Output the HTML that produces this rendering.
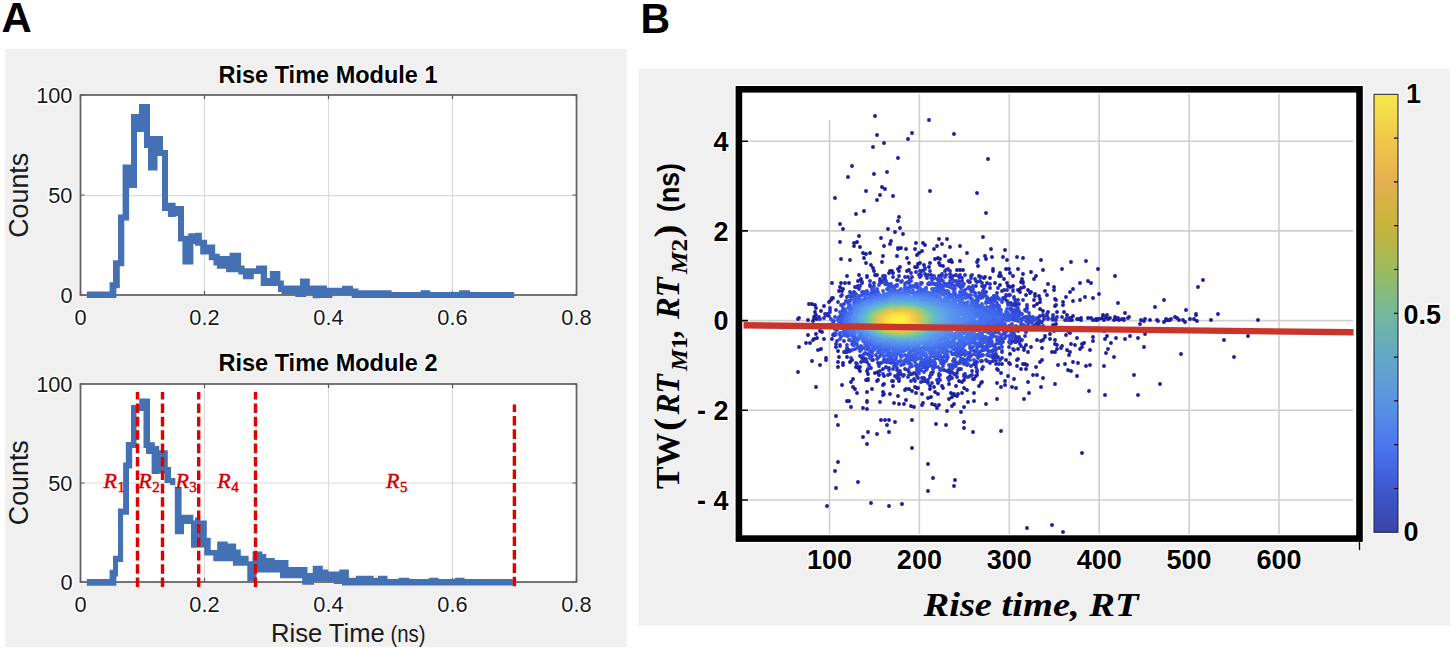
<!DOCTYPE html>
<html><head><meta charset="utf-8"><style>
html,body{margin:0;padding:0;background:#fff;width:1452px;height:650px;overflow:hidden}
svg{display:block}
</style></head><body>
<svg width="1452" height="650" viewBox="0 0 1452 650">
<rect x="0" y="0" width="1452" height="650" fill="#fff"/>
<rect x="5" y="49" width="622" height="598" fill="#f0f0f0"/>
<rect x="638.5" y="69" width="811" height="556.5" fill="#f0f0f0"/>
<text x="1.6" y="32.4" font-family='"Liberation Sans", sans-serif' font-weight="bold" font-size="43" transform="scale(0.975 1)">A</text>
<text x="640.6" y="32.6" font-family='"Liberation Sans", sans-serif' font-weight="bold" font-size="42.3" transform="translate(640 0) scale(0.97 1) translate(-640 0)">B</text>
<rect x="80.5" y="95" width="496.0" height="200" fill="#fff"/>
<path d="M204.5 95V295M328.5 95V295M452.5 95V295M80.5 195.7H576.5" stroke="#dadada" stroke-width="1.2" fill="none"/>
<rect x="80.5" y="384" width="496.0" height="198" fill="#fff"/>
<path d="M204.5 384V582M328.5 384V582M452.5 384V582M80.5 483.0H576.5" stroke="#dadada" stroke-width="1.2" fill="none"/>
<path d="M80.5 295v-4M80.5 95v4M204.5 295v-4M204.5 95v4M328.5 295v-4M328.5 95v4M452.5 295v-4M452.5 95v4M576.5 295v-4M576.5 95v4M80.5 95h4M576.5 95h-4M80.5 195.0h4M576.5 195.0h-4M80.5 295h4M576.5 295h-4" stroke="#555" stroke-width="1.2" fill="none"/>
<rect x="80.5" y="95" width="496.0" height="200" fill="none" stroke="#5e5e5e" stroke-width="1.7"/>
<path d="M80.5 582v-4M80.5 384v4M204.5 582v-4M204.5 384v4M328.5 582v-4M328.5 384v4M452.5 582v-4M452.5 384v4M576.5 582v-4M576.5 384v4M80.5 384h4M576.5 384h-4M80.5 483.0h4M576.5 483.0h-4M80.5 582h4M576.5 582h-4" stroke="#555" stroke-width="1.2" fill="none"/>
<rect x="80.5" y="384" width="496.0" height="198" fill="none" stroke="#5e5e5e" stroke-width="1.7"/>
<path d="M86.8 291.6H109.6V282.2H113V260.2H118V214.5H122.6V164.4H131V114H139V104H150V136H163V150H168V202.7H175.6V206H184V235.7H188.3V233.2H195V232.8H201.9V239.8H207.1V244.6H215.2V253.8H219.8V256.1H229.6V252.7H241.1V265.4H244.6V268.3H256.1V265.6H267.1V278H269.8V270.9H280.4V280.4H283.8V285.6H300V278.6H309.8V285.6H326.9V287.7H342V285.7H353V288.4H358.6V290.2H391.6V291.9H420.6V290.2H430.2V291.9H459.1V290.2H470.1V291.9H514.2V298H351.7V295.3H332.4V298H320V298.2H312.6V294.8H306.3V297.1H295.3V294.2H281.5V291.9H278V286.1H260.7V274H253.8V279.2H242.9V274.6H238.3V272.3H226.1V268.8H216.9V265.4H213.5V260.2H208.8V254.4H200.2V245.8H195V244H193.4V264.5H182.4V241.6H178V216.2H175.6V217H168V211H162V156H157.5V170.6H148V148H144V132H137V188H129.1V220.5H124.3V266.2H119.8V288.2H116.4V298H86.8Z" fill="#4470b4"/>
<path d="M86.8 579H109.6V569.7H113V555.8H118V508.5H123.1V462.6H125.8V442H131V405H139.2V398.6H150V442.2H154.8V446H159.2V450.3H167.8V467H171V478H175.3V487.4H181.6V514.7H193.4V520.6H195V517.4H200.2V520.4H206.8V537.7H210.7V550.1H217.2V541.4H227.7V543.6H236.2V549.5H240.8V555.7H248.6V561.2H252.5V551.4H262.4V554H266.3V558H274.8V559.9H288.5V567.1H307.5V573H312.7V565.8H322.8V569.5H328.3V571.5H339.3V569.5H348.9V577.7H355.8V575.7H373.7V577.7H377.9V575.7H387.5V579.1H398.5V577.7H409.5V579.1H428.8V577.7H438.5V579.1H455V577.7H464.6V579.1H512.8V585.5H342V583.9H333.8V581.2H322.5V580.9H314V584.8H302.2V578.2H280V572.4H256.5V581.5H247.3V565.8H232.9V561.2H213.3V555.4H204.2V547.5H196.8V547.7H191V524H184V534.2H174.8V485H170V483H164.5V473.4H159.2V474H151.6V454H146V448H143.5V411H136.5V448H132.2V468.5H129V514.7H123.1V562H118V576.5H116.4V585.8H86.8Z" fill="#4470b4"/>
<path d="M137.5 392V587" stroke="#e00000" stroke-width="3.4" stroke-dasharray="9.6 3.8" stroke-dashoffset="2"/>
<path d="M162.5 392V587" stroke="#e00000" stroke-width="3.4" stroke-dasharray="9.6 3.8" stroke-dashoffset="2"/>
<path d="M198.7 392V587" stroke="#e00000" stroke-width="3.4" stroke-dasharray="9.6 3.8" stroke-dashoffset="2"/>
<path d="M255.5 392V587" stroke="#e00000" stroke-width="3.4" stroke-dasharray="9.6 3.8" stroke-dashoffset="2"/>
<path d="M514.4 404.5V587" stroke="#e00000" stroke-width="3.4" stroke-dasharray="9.6 3.8" stroke-dashoffset="2"/>
<text x="103.5" y="487.8" font-family="Liberation Serif, serif" font-style="italic" font-size="22" fill="#d40000" stroke="#d40000" stroke-width="0.45">R<tspan font-size="15" font-style="normal" dx="0.5" dy="4.6">1</tspan></text>
<text x="138.2" y="487.8" font-family="Liberation Serif, serif" font-style="italic" font-size="22" fill="#d40000" stroke="#d40000" stroke-width="0.45">R<tspan font-size="15" font-style="normal" dx="0.5" dy="4.6">2</tspan></text>
<text x="175.4" y="487.8" font-family="Liberation Serif, serif" font-style="italic" font-size="22" fill="#d40000" stroke="#d40000" stroke-width="0.45">R<tspan font-size="15" font-style="normal" dx="0.5" dy="4.6">3</tspan></text>
<text x="217.2" y="487.8" font-family="Liberation Serif, serif" font-style="italic" font-size="22" fill="#d40000" stroke="#d40000" stroke-width="0.45">R<tspan font-size="15" font-style="normal" dx="0.5" dy="4.6">4</tspan></text>
<text x="386" y="487.8" font-family="Liberation Serif, serif" font-style="italic" font-size="22" fill="#d40000" stroke="#d40000" stroke-width="0.45">R<tspan font-size="15" font-style="normal" dx="0.5" dy="4.6">5</tspan></text>
<text x="72.5" y="103.3" text-anchor="end" font-family='"Liberation Sans", sans-serif' font-size="21.8" fill="#1a1a1a" stroke="#fff" stroke-width="3" paint-order="stroke">100</text>
<text x="72.5" y="203.3" text-anchor="end" font-family='"Liberation Sans", sans-serif' font-size="21.8" fill="#1a1a1a" stroke="#fff" stroke-width="3" paint-order="stroke">50</text>
<text x="72.5" y="303.3" text-anchor="end" font-family='"Liberation Sans", sans-serif' font-size="21.8" fill="#1a1a1a" stroke="#fff" stroke-width="3" paint-order="stroke">0</text>
<text x="80.5" y="324.5" text-anchor="middle" font-family='"Liberation Sans", sans-serif' font-size="21.8" fill="#1a1a1a" stroke="#fff" stroke-width="3" paint-order="stroke">0</text>
<text x="204.5" y="324.5" text-anchor="middle" font-family='"Liberation Sans", sans-serif' font-size="21.8" fill="#1a1a1a" stroke="#fff" stroke-width="3" paint-order="stroke">0.2</text>
<text x="328.5" y="324.5" text-anchor="middle" font-family='"Liberation Sans", sans-serif' font-size="21.8" fill="#1a1a1a" stroke="#fff" stroke-width="3" paint-order="stroke">0.4</text>
<text x="452.5" y="324.5" text-anchor="middle" font-family='"Liberation Sans", sans-serif' font-size="21.8" fill="#1a1a1a" stroke="#fff" stroke-width="3" paint-order="stroke">0.6</text>
<text x="576.5" y="324.5" text-anchor="middle" font-family='"Liberation Sans", sans-serif' font-size="21.8" fill="#1a1a1a" stroke="#fff" stroke-width="3" paint-order="stroke">0.8</text>
<text x="328" y="83" text-anchor="middle" font-family='"Liberation Sans", sans-serif' font-weight="bold" font-size="23.5" fill="#000" stroke="#fff" stroke-width="2.5" stroke-opacity="0.8" paint-order="stroke">Rise Time Module 1</text>
<text transform="translate(28 195.3) rotate(-90)" text-anchor="middle" font-family='"Liberation Sans", sans-serif' font-size="26.8" fill="#1a1a1a">Counts</text>
<text x="72.5" y="392.3" text-anchor="end" font-family='"Liberation Sans", sans-serif' font-size="21.8" fill="#1a1a1a" stroke="#fff" stroke-width="3" paint-order="stroke">100</text>
<text x="72.5" y="491.3" text-anchor="end" font-family='"Liberation Sans", sans-serif' font-size="21.8" fill="#1a1a1a" stroke="#fff" stroke-width="3" paint-order="stroke">50</text>
<text x="72.5" y="590.3" text-anchor="end" font-family='"Liberation Sans", sans-serif' font-size="21.8" fill="#1a1a1a" stroke="#fff" stroke-width="3" paint-order="stroke">0</text>
<text x="80.5" y="611.5" text-anchor="middle" font-family='"Liberation Sans", sans-serif' font-size="21.8" fill="#1a1a1a" stroke="#fff" stroke-width="3" paint-order="stroke">0</text>
<text x="204.5" y="611.5" text-anchor="middle" font-family='"Liberation Sans", sans-serif' font-size="21.8" fill="#1a1a1a" stroke="#fff" stroke-width="3" paint-order="stroke">0.2</text>
<text x="328.5" y="611.5" text-anchor="middle" font-family='"Liberation Sans", sans-serif' font-size="21.8" fill="#1a1a1a" stroke="#fff" stroke-width="3" paint-order="stroke">0.4</text>
<text x="452.5" y="611.5" text-anchor="middle" font-family='"Liberation Sans", sans-serif' font-size="21.8" fill="#1a1a1a" stroke="#fff" stroke-width="3" paint-order="stroke">0.6</text>
<text x="576.5" y="611.5" text-anchor="middle" font-family='"Liberation Sans", sans-serif' font-size="21.8" fill="#1a1a1a" stroke="#fff" stroke-width="3" paint-order="stroke">0.8</text>
<text x="328" y="371.3" text-anchor="middle" font-family='"Liberation Sans", sans-serif' font-weight="bold" font-size="23.5" fill="#000" stroke="#fff" stroke-width="2.5" stroke-opacity="0.8" paint-order="stroke">Rise Time Module 2</text>
<text transform="translate(28 482.7) rotate(-90)" text-anchor="middle" font-family='"Liberation Sans", sans-serif' font-size="26.8" fill="#1a1a1a">Counts</text>
<text x="271" y="641.7" font-family='"Liberation Sans", sans-serif' font-size="25.6" fill="#1a1a1a">Rise Time</text>
<text x="390.5" y="641.7" font-family='"Liberation Sans", sans-serif' font-size="24.5" fill="#1a1a1a" textLength="35" lengthAdjust="spacingAndGlyphs">(ns)</text>
<rect x="739" y="89.2" width="620.3" height="449.3" fill="#fff"/>
<path d="M749 141.2H1353M749 230.9H1353M749 320.6H1353M749 410.3H1353M749 500.0H1353M829.5 120V535M919.4 94V535M1009.3 94V535M1099.2 94V535M1189.1 94V535M1279.0 94V535" stroke="#d0d0d0" stroke-width="1.6" fill="none"/>
<g stroke-linecap="round" stroke-width="3.9" fill="none">
<path stroke="#1c1e9e" d="M1082 453h0M988 159h0M930 191h0M954 134h0M977 193h0M986 213h0M1234 357h0M912 448h0M835 198h0M875 116h0M827 506h0M1134 375h0M1138 395h0M929 120h0M1001 431h0M1160 384h0M1258 320h0M1027 528h0M816 387h0M1224 340h0M898 158h0M1248 336h0M858 482h0M928 464h0M836 488h0M798 372h0M928 491h0M983 237h0M852 166h0M871 503h0M848 177h0M1115 276h0M1105 395h0M1089 391h0M933 478h0M838 425h0M838 462h0M835 471h0M836 416h0M877 135h0M1063 532h0M1098 269h0M1052 525h0M887 172h0M902 504h0M874 174h0M912 420h0M1086 261h0M1144 347h0M1118 303h0M889 506h0M1062 269h0M954 486h0M955 480h0M873 147h0M1041 260h0M1218 314h0M1055 384h0M973 432h0M1071 262h0M864 211h0M997 399h0M856 214h0M867 444h0M866 191h0M912 133h0M936 424h0M884 143h0M908 139h0M1024 399h0M1104 366h0M1203 280h0M840 224h0M986 404h0M841 259h0M843 229h0M946 425h0M840 242h0M1155 307h0M899 217h0M1181 354h0M1181 354h0M893 196h0M964 422h0M964 428h0M1114 357h0M1041 387h0M1099 294h0M859 236h0M889 432h0M877 200h0M1198 287h0M1164 300h0M1164 300h0M1211 320h0M863 437h0M1029 393h0M799 347h0M1198 287h0M1077 376h0M812 361h0M898 221h0M868 432h0M1023 258h0M1043 270h0M1005 250h0M960 246h0M888 229h0M991 249h0M820 365h0M1145 334h0M881 238h0M877 434h0M882 187h0M1091 283h0M1157 330h0M885 189h0M850 260h0M842 385h0M1080 283h0M1093 298h0M967 253h0M961 412h0M1088 281h0M1017 257h0M903 234h0M1138 338h0M1090 365h0M900 228h0M1043 378h0M880 195h0M1106 353h0M847 401h0M1058 365h0M851 407h0M1028 382h0M1130 336h0M947 239h0M1108 349h0M1125 339h0M895 422h0M883 256h0M1048 284h0M867 409h0M849 401h0M1086 366h0M1073 289h0M863 408h0M974 401h0M895 232h0M881 420h0M1085 297h0M880 402h0M1090 350h0M1003 257h0M1042 360h0M832 283h0M950 247h0M884 246h0M1111 343h0M1054 287h0M1016 388h0M939 239h0M1116 338h0M1007 260h0M1068 370h0M798 319h0M1080 300h0M887 425h0M1070 292h0M847 276h0M947 411h0M1071 371h0M885 420h0M818 350h0M1037 375h0M1001 387h0M857 393h0M1078 363h0M964 407h0M916 243h0M854 243h0M889 420h0M1040 362h0M992 257h0M897 256h0M1065 364h0M857 242h0M882 262h0M867 401h0M867 402h0M1033 375h0M1186 310h0M1186 310h0M1036 276h0M799 318h0M1012 387h0M854 246h0M826 360h0M891 241h0M1073 362h0M985 256h0M1107 336h0M923 243h0M899 404h0M826 358h0M1105 339h0M870 253h0M894 403h0M867 392h0M855 389h0M1093 337h0M1014 379h0M851 382h0M809 304h0M866 263h0M821 349h0M860 247h0M968 402h0M1104 331h0M1093 341h0M1031 272h0M974 393h0M890 244h0M1073 301h0M997 383h0M978 260h0M911 406h0M986 259h0M977 262h0M942 244h0M853 379h0M1088 330h0M853 387h0M838 367h0M914 407h0M1054 290h0M806 343h0M864 258h0M1034 279h0M937 408h0M1036 367h0M863 253h0M866 254h0M1197 321h0M937 246h0M1077 338h0M1008 376h0M934 249h0M1196 315h0M1196 314h0M812 304h0M904 404h0M1018 269h0M808 335h0M872 389h0M1005 385h0M871 265h0M1069 355h0M925 245h0M1140 324h0M907 258h0M1052 352h0M1070 333h0M1042 348h0M1005 381h0M978 266h0M883 395h0M898 396h0M1066 297h0M898 248h0M906 400h0M898 249h0M952 406h0M960 261h0M906 249h0M884 394h0M901 248h0M915 249h0M922 251h0M1001 373h0M1084 343h0M919 253h0M1092 329h0M1045 291h0M939 405h0M810 343h0M922 405h0M1194 319h0M917 255h0M890 394h0M1080 349h0M1066 335h0M1145 319h0M935 405h0M1055 352h0M1141 320h0M1144 321h0M883 392h0M979 386h0M1023 274h0M1150 320h0M1026 369h0M954 404h0M1021 369h0M923 403h0M1082 347h0M1068 331h0M982 382h0M1185 322h0M1082 344h0M1063 302h0M1190 319h0M1125 313h0M1009 269h0M932 404h0M1055 299h0M993 269h0M1157 320h0M981 383h0M1070 352h0M1006 269h0M1158 321h0M813 340h0M1063 305h0M1027 365h0M873 268h0M1075 345h0M1056 300h0M838 362h0M814 339h0M843 365h0M1025 364h0M1028 352h0M967 390h0M841 283h0M945 256h0M1071 344h0M1047 295h0M1183 320h0M1067 350h0M866 380h0M1023 364h0M1164 322h0M815 305h0M1041 341h0M1010 273h0M1057 349h0M1055 340h0M1022 279h0M1017 366h0M928 398h0M949 399h0M1055 344h0M905 390h0M928 398h0M951 260h0M1013 276h0M1179 320h0M935 259h0M962 393h0M1057 345h0M1043 340h0M1061 348h0M817 338h0M1129 317h0M993 271h0M916 393h0M868 380h0M1175 317h0M931 397h0M938 394h0M909 263h0M1062 346h0M1037 340h0M900 267h0M816 334h0M859 275h0M922 394h0M1050 339h0M964 388h0M1056 305h0M883 385h0M893 386h0M938 258h0M1177 318h0M1166 319h0M1018 359h0M1017 360h0M808 320h0M912 391h0M1167 320h0M940 259h0M1045 336h0M906 389h0M868 379h0M998 370h0M1168 320h0M1045 337h0M957 396h0M909 389h0M1170 320h0M1171 319h0M1055 306h0M1031 347h0M952 397h0M1128 318h0M958 394h0M935 392h0M997 369h0M1050 334h0M1023 282h0M884 384h0M845 283h0M843 363h0M951 393h0M1000 274h0M1000 273h0M954 394h0M954 395h0M840 287h0M1039 296h0M951 261h0M898 269h0M943 388h0M816 308h0M1054 331h0M877 381h0M832 298h0M952 262h0M874 271h0M1040 299h0M839 357h0M1035 294h0M1010 364h0M824 339h0M949 261h0M1031 292h0M1040 302h0M820 331h0M1001 276h0M956 386h0M1021 282h0M1023 283h0M1035 296h0M999 276h0M963 270h0M860 371h0M878 380h0M1004 279h0M831 300h0M942 386h0M1107 315h0M930 389h0M939 263h0M1037 304h0M918 264h0M1034 300h0M813 321h0M849 283h0M1124 320h0M949 384h0M829 302h0M867 276h0M918 388h0M1124 319h0M1064 312h0M930 263h0M1028 290h0M920 263h0M1030 293h0M1009 363h0M1024 350h0M934 387h0M824 306h0M917 388h0M1122 319h0M1122 319h0M1088 318h0M899 271h0M868 374h0M1051 329h0M1103 315h0M1081 318h0M1024 348h0M858 281h0M814 319h0M833 298h0M1119 320h0M1024 287h0M915 387h0M1081 320h0M815 312h0M1091 318h0M990 278h0M861 279h0M890 271h0M974 379h0M1118 318h0M892 381h0M892 271h0M1026 295h0M1093 320h0M1007 283h0M867 276h0M1081 320h0M962 382h0M822 332h0M1114 320h0M893 381h0M1118 319h0M924 265h0M940 265h0M839 291h0M943 266h0M1117 319h0M1096 320h0M1115 317h0M867 371h0M859 369h0M815 316h0M814 317h0M960 270h0M1078 319h0M1097 320h0M867 277h0M1104 320h0M1048 328h0M843 289h0M1097 319h0M1096 319h0M1097 320h0M1073 316h0M836 347h0M1021 288h0M1106 317h0M899 381h0M817 319h0M1102 318h0M1078 319h0M1110 318h0M856 367h0M1099 319h0M1000 285h0M1010 354h0M1108 319h0M957 270h0M1067 315h0M1077 319h0M985 277h0M875 275h0M973 379h0M1053 326h0M850 362h0M816 315h0M995 283h0M977 375h0M1057 312h0M930 386h0M838 351h0M976 376h0M1006 360h0M857 367h0M1034 306h0M877 275h0M821 311h0M884 376h0M929 267h0M917 267h0M915 267h0M860 367h0M1026 345h0M879 375h0M1055 326h0M979 276h0M875 373h0M1018 349h0M1072 320h0M842 291h0M964 380h0M1013 286h0M1002 364h0M1056 324h0M1020 292h0M907 271h0M938 383h0M1040 309h0M1048 312h0M1014 350h0M1019 290h0M909 270h0M1010 287h0M977 372h0M1008 286h0M1043 311h0M984 278h0M822 325h0M878 372h0M959 381h0M852 360h0M847 357h0M1053 325h0M1070 318h0M893 273h0M1071 320h0M982 369h0M889 273h0M862 282h0M832 339h0M1018 290h0"/>
<path stroke="#2630b9" d="M868 369h0M836 344h0M932 383h0M1023 300h0M899 379h0M1069 320h0M1069 319h0M972 375h0M983 367h0M1066 320h0M857 364h0M820 319h0M1067 318h0M1025 336h0M819 317h0M972 275h0M928 383h0M999 364h0M1065 320h0M888 375h0M871 368h0M970 376h0M925 268h0M968 377h0M981 277h0M883 374h0M1062 317h0M862 283h0M948 269h0M977 370h0M1013 290h0M949 380h0M987 283h0M990 284h0M946 270h0M899 378h0M1021 346h0M965 275h0M980 277h0M915 381h0M911 381h0M996 364h0M851 358h0M830 308h0M856 363h0M940 380h0M1043 326h0M998 288h0M925 269h0M1026 332h0M1013 291h0M950 271h0M880 371h0M897 378h0M858 286h0M1007 290h0M1013 349h0M883 276h0M948 378h0M937 380h0M856 287h0M971 276h0M890 374h0M1057 317h0M1004 290h0M1000 360h0M945 271h0M1018 300h0M921 382h0M924 381h0M1053 315h0M1056 320h0M939 379h0M911 273h0M1027 305h0M1056 319h0M840 345h0M1002 358h0M965 377h0M930 271h0M837 341h0M895 376h0M990 363h0M972 371h0M928 380h0M914 379h0M1020 344h0M1014 297h0M855 287h0M825 314h0M840 346h0M827 327h0M883 369h0M842 295h0M841 296h0M1002 291h0M957 377h0M830 310h0M920 271h0M844 352h0M926 381h0M870 281h0M1047 315h0M1047 314h0M1002 291h0M1022 340h0M980 281h0M952 378h0M1026 331h0M960 275h0M824 318h0M908 377h0M885 277h0M975 279h0M861 362h0M903 376h0M899 276h0M924 270h0M898 375h0M885 276h0M827 314h0M982 283h0M964 376h0M964 375h0M1053 317h0M965 374h0M869 365h0M847 352h0M1053 320h0M1014 298h0M916 272h0M1015 300h0M826 315h0M845 352h0M990 288h0M841 296h0M925 380h0M921 271h0M879 366h0M1052 319h0M922 271h0M1010 295h0M838 302h0M1027 307h0M889 370h0M990 362h0M1020 344h0M976 367h0M908 277h0M996 361h0M996 361h0M993 361h0M846 351h0M860 286h0M1002 352h0M956 275h0M971 278h0M898 374h0M893 277h0M930 377h0M985 286h0M976 281h0M939 376h0M830 312h0M950 274h0M1009 295h0M998 357h0M920 274h0M1048 318h0M1048 319h0M1006 295h0M901 374h0M956 375h0M1020 339h0M905 277h0M982 286h0M950 376h0M918 378h0M904 375h0M1048 318h0M829 327h0M919 275h0M828 314h0M884 278h0M930 376h0M984 288h0M1032 327h0M924 378h0M1039 325h0M1043 315h0M959 277h0M922 378h0M977 282h0M880 279h0M940 375h0M1019 304h0M997 293h0M987 361h0M829 327h0M942 274h0M962 278h0M886 367h0M1015 303h0M889 368h0M1009 347h0M870 285h0M1002 351h0M1044 317h0M996 358h0M950 274h0M956 374h0M867 362h0M1042 322h0M925 274h0M917 376h0M1034 326h0M1006 296h0M893 369h0M912 277h0M1019 341h0M897 370h0M864 360h0M865 360h0M864 361h0M928 275h0M932 374h0M1027 309h0M921 275h0M909 375h0M1044 319h0M939 374h0M971 366h0M931 275h0M880 281h0M1039 323h0M878 363h0M829 316h0M946 275h0M1040 316h0M885 279h0M920 277h0M1019 337h0M986 360h0M900 371h0M874 283h0M926 276h0M847 348h0M847 348h0M912 374h0M954 374h0M921 276h0M950 373h0M974 364h0M1017 304h0M829 325h0M870 286h0M1015 342h0M898 280h0M982 361h0M968 281h0M834 334h0M833 335h0M865 360h0M957 373h0M993 358h0M883 281h0M850 292h0M953 276h0M849 350h0M850 351h0M970 282h0M976 364h0M977 362h0M848 350h0M1016 342h0M1025 310h0M952 372h0M866 359h0M886 281h0M942 275h0M859 289h0M950 277h0M951 277h0M1007 301h0M961 369h0M897 368h0M994 357h0M969 282h0M854 292h0M860 356h0M1018 331h0M882 282h0M1005 299h0M863 357h0M862 358h0M1011 303h0M910 280h0M1036 324h0M974 364h0M914 373h0M1010 343h0M1011 343h0M931 373h0M1013 305h0M981 361h0M872 360h0M835 334h0M835 335h0M986 292h0M992 356h0M880 283h0M1016 339h0M897 280h0M947 371h0M1028 326h0M909 372h0M873 360h0M952 372h0M927 278h0M836 310h0M1020 328h0M934 276h0M1016 337h0M994 355h0M1015 337h0M1015 336h0M996 354h0M967 365h0M916 374h0M983 291h0M944 370h0M958 370h0M1038 321h0M939 276h0M1012 341h0M1012 341h0M1010 304h0M933 372h0M1039 320h0M1003 298h0M1013 341h0M847 297h0M1016 306h0M967 365h0M1017 329h0M905 369h0M949 370h0M952 279h0M976 286h0M881 363h0M908 370h0M1037 318h0M844 341h0M1008 303h0M914 373h0M994 296h0M999 348h0M997 297h0M1025 310h0M975 362h0M959 369h0M962 281h0M934 278h0"/>
<path stroke="#3047d8" d="M847 345h0M831 319h0M940 370h0M941 370h0M910 280h0M968 364h0M911 281h0M934 277h0M945 277h0M1023 325h0M1024 325h0M1002 347h0M852 294h0M984 292h0M852 350h0M997 297h0M1014 334h0M973 286h0M924 372h0M1014 333h0M1037 320h0M1026 311h0M941 278h0M840 339h0M919 373h0M885 282h0M956 281h0M990 356h0M1014 331h0M901 282h0M931 278h0M983 292h0M902 281h0M973 287h0M1029 313h0M1013 337h0M1016 328h0M886 283h0M883 362h0M941 369h0M1032 323h0M993 353h0M998 298h0M841 305h0M1009 342h0M1009 342h0M959 281h0M953 368h0M874 286h0M954 281h0M964 364h0M894 366h0M951 368h0M974 360h0M1008 305h0M1033 317h0M1021 325h0M933 369h0M896 366h0M998 298h0M994 296h0M1002 301h0M1014 328h0M1034 319h0M1028 324h0M987 355h0M1010 339h0M1032 321h0M959 283h0M953 367h0M1018 308h0M950 367h0M951 367h0M951 367h0M941 279h0M877 359h0M1011 332h0M870 358h0M1033 319h0M1034 320h0M849 296h0M833 322h0M879 285h0M1011 335h0M996 350h0M954 366h0M1016 326h0M950 281h0M995 297h0M996 349h0M957 283h0M978 358h0M981 356h0M1033 321h0M1033 321h0M999 299h0M1002 302h0M966 363h0M873 288h0M1009 336h0M956 366h0M886 362h0M1030 322h0M836 334h0M973 289h0M964 284h0M895 364h0M971 288h0M959 284h0M901 365h0M863 355h0M1001 344h0M855 349h0M888 284h0M963 284h0M1029 316h0M917 371h0M917 371h0M937 279h0M1030 321h0M1029 321h0M969 287h0M960 363h0M995 348h0M939 279h0M940 280h0M932 280h0M979 293h0M956 364h0M970 360h0M906 283h0M906 283h0M935 367h0M958 284h0M943 366h0M1003 342h0M981 356h0M921 370h0M908 282h0M963 362h0M989 352h0M835 329h0M909 283h0M958 363h0M985 295h0M953 365h0M977 356h0M897 364h0M841 337h0M951 365h0M980 355h0M885 284h0M992 298h0M872 288h0M886 362h0M949 365h0M938 367h0M1021 323h0M910 367h0M994 350h0M956 363h0M983 355h0M834 321h0M1030 317h0M994 349h0M922 283h0M963 286h0M943 281h0M981 355h0M878 358h0M1006 336h0M969 288h0M917 369h0M978 356h0M926 370h0M835 317h0M1019 311h0M970 289h0M980 294h0M836 330h0M960 361h0M961 362h0M987 297h0M938 280h0M967 360h0M960 285h0M862 292h0M968 358h0M1012 328h0M1028 319h0M963 361h0M950 282h0M966 360h0M920 370h0M970 288h0M969 288h0M959 286h0M952 284h0M991 351h0M888 284h0M988 351h0M851 297h0M1005 338h0M867 354h0M888 362h0M964 360h0M1028 318h0M955 361h0M1003 339h0M891 363h0M1001 342h0M929 283h0M968 288h0M1027 318h0M905 284h0M995 300h0M1022 314h0M1007 331h0M1011 308h0M1010 309h0M886 361h0M927 369h0M934 367h0M844 304h0M1026 321h0M968 358h0M981 296h0M891 284h0M970 356h0M852 344h0M995 347h0M975 293h0M939 282h0M1026 317h0M921 283h0M921 284h0M963 359h0M840 335h0M998 343h0M953 361h0M944 363h0M997 343h0M973 291h0M983 296h0M989 299h0M971 291h0M869 355h0M869 355h0M918 368h0M941 363h0M1015 310h0M961 359h0M971 356h0M872 356h0M860 351h0M836 330h0M932 283h0M934 366h0M1005 333h0M1005 333h0M991 299h0M1017 311h0M888 285h0M1025 317h0M955 360h0M999 341h0M897 285h0M946 361h0M954 359h0M846 301h0M856 294h0M912 366h0M853 296h0M1004 332h0M1004 331h0M978 353h0M1020 313h0M955 286h0M853 345h0M891 361h0M1001 336h0M917 368h0M974 354h0M865 353h0M1021 314h0M935 364h0M999 341h0M1002 335h0M943 361h0M983 297h0M1023 318h0M929 366h0M930 284h0M997 303h0M995 345h0M969 355h0M961 288h0M1022 320h0M1000 338h0M981 351h0M984 350h0M904 364h0M924 367h0M884 359h0M849 340h0M1016 312h0M923 367h0M965 355h0M946 361h0M1012 311h0M1013 310h0M876 355h0M960 356h0M984 350h0M932 366h0M997 340h0M917 284h0M917 285h0M916 284h0M1021 319h0M894 362h0M947 284h0M970 353h0M975 295h0M861 350h0M927 367h0M852 344h0M991 301h0M993 345h0M1015 312h0M934 284h0M1019 314h0M968 353h0M999 306h0M880 356h0M945 284h0M916 366h0M987 349h0M993 301h0M887 360h0M936 284h0M939 283h0M947 359h0M843 308h0M965 290h0M1012 324h0M975 295h0M979 297h0M950 286h0M987 299h0M928 284h0M908 363h0M975 351h0M904 362h0M858 347h0M948 286h0M864 292h0M1014 312h0M963 354h0M991 345h0M895 286h0M988 347h0M849 301h0M1009 326h0M992 345h0M877 289h0M867 291h0M918 366h0M974 351h0M992 301h0M888 360h0M898 362h0M837 330h0"/>
<path stroke="#3551e1" d="M993 302h0M911 364h0M931 284h0M897 285h0M947 286h0M1019 316h0M977 350h0M920 366h0M854 345h0M985 348h0M943 285h0M872 290h0M1007 309h0M893 360h0M1018 321h0M955 289h0M990 346h0M872 353h0M872 353h0M967 353h0M1005 327h0M981 298h0M940 284h0M935 363h0M957 356h0M950 287h0M858 348h0M859 348h0M1017 315h0M1017 314h0M891 286h0M936 284h0M890 360h0M1016 320h0M843 310h0M999 333h0M953 288h0M953 289h0M916 285h0M914 286h0M840 312h0M910 286h0M983 349h0M991 303h0M997 337h0M861 349h0M940 360h0M976 296h0M874 291h0M977 298h0M978 298h0M919 365h0M838 328h0M999 307h0M893 287h0M977 349h0M1001 329h0M850 301h0M985 347h0M853 342h0M1018 319h0M892 360h0M963 291h0M963 292h0M916 365h0M870 352h0M840 333h0M867 293h0M928 365h0M1017 318h0M905 361h0M838 319h0M884 356h0M931 363h0M909 363h0M983 348h0M900 361h0M917 365h0M944 286h0M962 353h0M943 358h0M988 345h0M901 361h0M937 286h0M989 302h0M958 354h0M877 290h0M987 302h0M1016 320h0M971 295h0M961 352h0M896 359h0M948 357h0M934 361h0M848 303h0M897 286h0M992 342h0M960 292h0M987 345h0M889 287h0M919 365h0M844 335h0M998 331h0M997 331h0M854 342h0M873 292h0M850 340h0M922 365h0M922 365h0M971 350h0M892 358h0M891 359h0M1016 319h0M905 360h0M844 309h0M862 348h0M996 306h0M864 293h0M1014 320h0M1014 319h0M989 343h0M917 286h0M954 291h0M917 286h0M962 292h0M905 287h0M965 351h0M1001 329h0M1001 329h0M1015 316h0M851 300h0M862 295h0M994 336h0M994 336h0M855 298h0M855 297h0M940 286h0M912 286h0M965 293h0M964 293h0M1012 314h0M911 287h0M997 332h0M969 296h0M946 356h0M1006 312h0M862 347h0M862 348h0M1015 318h0M906 361h0M991 340h0M929 363h0M977 347h0M993 335h0M982 347h0M838 327h0M966 294h0M866 349h0M925 364h0M856 343h0M993 305h0M1014 316h0M954 354h0M968 295h0M896 359h0M888 289h0M993 334h0M921 364h0M995 332h0M838 320h0M915 362h0M908 360h0M986 302h0M941 288h0M888 356h0M980 346h0M998 309h0M841 314h0M844 311h0M839 321h0M866 293h0M866 293h0M953 354h0M970 348h0M970 348h0M1008 313h0M863 348h0M960 351h0M839 317h0M889 289h0M839 323h0M988 342h0M995 306h0M906 360h0M962 294h0M969 297h0M856 298h0M854 340h0M927 363h0M841 315h0M973 347h0M857 344h0M990 339h0M869 350h0M992 337h0M907 360h0M943 288h0M861 346h0M910 360h0M947 355h0M966 296h0M944 357h0M938 288h0M845 310h0M991 336h0M992 333h0M964 294h0M942 289h0M970 298h0M922 363h0M921 362h0M926 288h0M932 361h0M955 293h0M918 287h0M873 293h0M952 354h0M847 336h0M866 349h0M878 292h0M982 345h0M966 295h0M896 357h0M943 357h0M916 287h0M1002 325h0M937 358h0M942 289h0M859 296h0M996 330h0M1012 319h0M891 357h0M986 303h0M930 361h0M954 293h0M908 288h0M910 359h0M970 298h0M1011 316h0M887 289h0M978 346h0M881 354h0M845 334h0M1001 310h0M878 352h0M994 308h0M839 326h0M848 336h0M841 328h0M991 335h0M978 301h0M901 357h0M988 339h0M989 338h0M1004 325h0M978 345h0M861 346h0M925 361h0M924 361h0M962 349h0M1008 315h0M959 351h0M976 301h0M956 352h0M960 294h0M840 318h0M875 293h0M1010 319h0M840 323h0M873 351h0M912 359h0M946 354h0M869 350h0M870 350h0M940 356h0M935 359h0M842 316h0M943 289h0M972 299h0M909 358h0M938 288h0M862 295h0M946 291h0M1009 320h0M1010 319h0M1005 324h0M912 359h0M871 293h0M951 352h0M987 339h0M981 343h0M930 359h0M894 289h0M888 289h0M927 360h0M927 360h0M926 360h0"/>
<path stroke="#395ce9" d="M1006 314h0M1001 325h0M913 360h0M844 313h0M934 289h0M986 340h0M985 342h0M1010 319h0M948 291h0M990 307h0M991 306h0M846 334h0M846 335h0M890 355h0M926 288h0M926 289h0M992 330h0M994 308h0M983 342h0M974 301h0M920 288h0M854 339h0M977 344h0M977 344h0M939 357h0M992 329h0M1004 324h0M869 349h0M865 347h0M887 355h0M982 304h0M867 294h0M915 360h0M996 328h0M902 356h0M902 356h0M956 350h0M878 352h0M843 332h0M989 333h0M979 343h0M949 293h0M1008 318h0M1009 318h0M947 354h0M947 353h0M972 301h0M942 290h0M909 358h0M966 298h0M917 359h0M894 355h0M963 348h0M840 324h0M908 289h0M975 344h0M840 321h0M985 338h0M842 318h0M960 295h0M848 308h0M866 347h0M1006 315h0M985 340h0M945 354h0M930 359h0M929 358h0M848 335h0M923 360h0M907 357h0M990 307h0M976 303h0M956 349h0M935 289h0M970 345h0M970 346h0M948 293h0M998 312h0M884 352h0M900 355h0M913 358h0M1001 313h0M1000 312h0M934 290h0M855 299h0M938 355h0M902 356h0M987 307h0M985 339h0M985 338h0M933 290h0M932 289h0M933 289h0M883 291h0M1006 320h0M1007 320h0M1007 319h0M1007 317h0M986 337h0M959 348h0M909 356h0M989 331h0M964 346h0M869 348h0M892 354h0M867 346h0M987 332h0M990 307h0M855 338h0M888 354h0M893 289h0M875 349h0M911 356h0M966 298h0M870 294h0M985 337h0M993 309h0M925 290h0M946 353h0M919 358h0M939 290h0M850 305h0M849 306h0M997 312h0M842 328h0M920 358h0M854 300h0M895 290h0M920 290h0M841 325h0M916 357h0M962 298h0M938 291h0M984 337h0M1005 319h0M1005 319h0M936 356h0M986 331h0M842 320h0M948 351h0M912 357h0M940 355h0M942 292h0M993 326h0M908 355h0M896 355h0M896 354h0M991 308h0M962 346h0M959 347h0M889 291h0M890 353h0M889 354h0M956 349h0M994 310h0M994 311h0M879 351h0M914 356h0M1001 322h0M842 322h0M935 356h0M928 358h0M856 300h0M999 312h0M986 330h0M980 341h0M858 299h0M941 292h0M952 295h0M926 357h0M1004 315h0M959 296h0M992 327h0M887 352h0M948 294h0M985 331h0M844 316h0M909 290h0M989 328h0M926 358h0M905 355h0M994 326h0M978 305h0M964 346h0M866 346h0M915 357h0M976 303h0M900 290h0M955 295h0M905 289h0M953 349h0M901 289h0M846 331h0M905 289h0M1005 319h0M990 328h0M973 302h0M843 319h0M940 354h0M992 327h0M999 324h0M946 351h0M957 296h0M934 355h0M982 338h0M939 292h0M981 306h0M981 306h0M846 312h0M874 349h0M855 337h0M955 348h0M843 329h0M963 298h0M1002 322h0M1003 320h0M1003 320h0M894 354h0M893 353h0M933 356h0M975 342h0M882 350h0M859 299h0M865 297h0M972 303h0M869 347h0M857 339h0M926 356h0M1004 319h0M855 302h0M893 291h0M875 295h0M925 290h0M921 357h0M926 356h0M852 336h0M923 290h0M915 355h0M916 355h0M922 356h0M966 344h0M980 339h0M899 353h0M981 339h0M981 339h0M921 290h0M922 291h0M994 325h0M989 327h0M973 303h0M865 344h0M854 303h0M931 356h0M882 351h0M945 293h0M1001 321h0M858 340h0M942 352h0M990 310h0M846 312h0M853 336h0M956 297h0M999 315h0M894 291h0M935 292h0M997 323h0M997 323h0M1001 321h0M956 348h0M986 328h0M985 328h0M848 332h0M998 322h0M973 342h0M978 306h0M876 294h0M846 331h0M846 331h0M1002 318h0M982 333h0M981 336h0M868 346h0M873 347h0M873 348h0M883 351h0M983 307h0M961 298h0M933 292h0M933 291h0M981 334h0M850 307h0M909 353h0M971 343h0M972 342h0M937 353h0M1001 319h0M913 290h0M913 290h0M880 350h0M977 306h0M982 334h0M982 333h0"/>
<path stroke="#3f66ec" d="M911 354h0M981 336h0M995 313h0M877 295h0M877 295h0M893 353h0M924 355h0M1001 318h0M938 293h0M924 355h0M890 292h0M844 328h0M863 341h0M935 354h0M963 345h0M962 345h0M884 350h0M884 350h0M982 308h0M983 307h0M982 307h0M1000 317h0M1001 316h0M1000 317h0M931 354h0M954 347h0M894 352h0M996 322h0M997 322h0M938 352h0M938 353h0M898 291h0M989 311h0M1000 320h0M1001 319h0M991 311h0M919 354h0M914 354h0M968 302h0M902 352h0M962 299h0M869 297h0M927 292h0M933 354h0M990 325h0M986 309h0M873 346h0M953 348h0M953 347h0M875 347h0M986 326h0M948 296h0M968 343h0M848 332h0M922 355h0M941 352h0M858 301h0M958 298h0M882 350h0M997 315h0M996 314h0M845 327h0M845 328h0M926 354h0M922 354h0M960 345h0M844 320h0M860 300h0M924 354h0M999 320h0M984 327h0M976 306h0M936 353h0M990 324h0M972 341h0M971 341h0M971 341h0M892 291h0M863 341h0M917 353h0M980 334h0M979 335h0M968 302h0M972 304h0M973 305h0M972 305h0M1000 319h0M985 309h0M985 310h0M994 322h0M998 315h0M987 326h0M918 353h0M987 310h0M976 339h0M919 292h0M946 349h0M973 341h0M851 333h0M990 311h0M919 292h0M999 319h0M999 319h0M998 321h0M930 354h0M978 338h0M918 291h0M918 292h0M934 352h0M888 351h0M887 351h0M920 354h0M938 294h0M857 301h0M991 323h0M845 315h0M979 308h0M951 297h0M950 297h0M951 297h0M943 294h0M851 308h0M851 308h0M958 344h0M871 296h0M986 310h0M969 342h0M972 340h0M974 339h0M994 315h0M995 314h0M885 349h0M923 354h0M852 335h0M894 351h0M861 300h0M860 299h0M981 328h0M979 334h0M952 346h0M985 326h0M846 330h0M940 351h0M897 351h0M865 341h0M942 294h0M904 351h0M950 347h0M983 309h0M982 327h0M898 352h0M849 331h0M943 350h0M932 352h0M932 353h0M847 331h0M895 292h0M895 292h0M889 350h0M996 319h0M878 348h0M975 307h0M959 299h0M958 299h0M964 343h0M952 346h0M952 347h0M910 292h0M845 319h0M910 351h0M979 331h0M850 310h0M920 352h0M919 353h0M911 351h0M956 344h0M987 323h0M983 310h0M981 327h0M977 337h0M847 314h0M971 340h0M869 343h0M908 291h0M908 291h0M978 330h0M978 330h0M975 338h0M996 320h0M985 325h0M923 353h0M886 350h0M908 291h0M908 291h0M941 350h0M979 309h0M959 343h0M996 318h0M977 335h0M845 323h0M947 347h0M924 292h0M952 297h0M944 295h0M955 345h0M860 338h0M873 345h0M906 292h0M992 314h0M992 315h0M859 300h0M977 335h0M899 292h0M898 292h0M923 293h0M989 313h0M971 305h0M974 338h0M986 312h0M904 292h0M966 304h0M976 308h0M917 351h0M904 291h0M982 326h0M992 320h0M994 317h0M959 301h0M964 341h0M961 343h0M954 345h0M950 297h0M962 301h0M894 350h0M978 328h0M979 327h0M978 327h0M919 292h0M888 349h0M994 317h0M984 311h0M987 323h0M866 299h0M865 298h0M865 299h0M964 342h0M994 319h0M878 347h0M942 349h0M948 346h0M973 338h0M852 333h0M960 342h0M945 348h0M906 350h0M864 340h0M904 351h0M931 294h0M863 300h0M896 351h0M971 306h0M989 321h0M901 350h0M975 335h0M923 352h0M954 345h0M966 303h0M989 314h0M910 351h0M984 323h0M933 350h0M978 309h0M931 294h0M992 318h0M992 319h0M993 318h0M993 317h0M942 349h0M941 349h0M991 320h0M846 327h0M959 343h0M969 339h0M866 341h0M956 344h0M945 348h0M854 335h0M932 351h0M915 293h0M858 301h0M914 351h0M971 338h0M930 293h0M880 295h0M860 301h0M846 325h0M846 324h0M991 317h0M991 318h0M977 329h0M932 350h0M991 320h0M990 319h0M984 323h0M984 322h0M868 343h0M976 330h0M986 321h0M870 344h0M871 344h0M988 320h0M989 321h0M989 316h0M991 316h0M930 350h0M968 340h0M876 296h0M944 347h0M944 347h0M913 293h0M985 313h0M955 344h0M964 304h0M965 303h0M977 308h0M917 350h0M929 351h0M930 350h0M928 294h0M886 348h0M975 329h0"/>
<path stroke="#4571ef" d="M845 323h0M990 318h0M958 300h0M845 320h0M859 336h0M918 350h0M919 350h0M939 348h0M940 349h0M892 349h0M983 323h0M851 331h0M988 316h0M988 315h0M935 294h0M989 316h0M974 332h0M974 333h0M928 350h0M920 350h0M954 300h0M884 294h0M884 295h0M935 350h0M871 298h0M947 298h0M922 351h0M854 334h0M924 350h0M861 338h0M849 329h0M986 321h0M987 314h0M974 331h0M973 336h0M970 338h0M970 339h0M987 315h0M981 311h0M967 340h0M979 311h0M959 341h0M977 310h0M937 348h0M981 323h0M855 334h0M971 306h0M895 350h0M984 321h0M873 297h0M965 339h0M907 292h0M940 347h0M936 348h0M938 295h0M974 332h0M982 323h0M885 294h0M971 337h0M971 336h0M908 349h0M955 343h0M878 345h0M878 296h0M932 295h0M899 349h0M898 350h0M960 341h0M899 349h0M899 350h0M973 335h0M913 349h0M986 318h0M986 316h0M949 299h0M846 319h0M967 339h0M963 303h0M917 349h0M984 321h0M981 312h0M935 348h0M943 346h0M926 349h0M953 343h0M854 305h0M945 345h0M953 299h0M925 350h0M972 332h0M904 293h0M939 347h0M921 350h0M940 297h0M983 314h0M901 293h0M933 348h0M973 328h0M984 314h0M862 300h0M887 294h0M871 342h0M846 320h0M878 345h0M879 297h0M968 337h0M949 299h0M851 331h0M974 309h0M977 311h0M952 343h0M849 330h0M929 295h0M849 313h0M981 312h0M847 316h0M979 322h0M979 323h0M971 335h0M955 301h0M847 321h0M968 306h0M968 306h0M950 344h0M950 344h0M940 347h0M936 348h0M954 341h0M982 313h0M968 337h0M980 321h0M931 348h0M930 349h0M976 325h0M971 332h0M947 298h0M983 317h0M926 295h0M879 346h0M873 344h0M883 296h0M940 347h0M969 336h0M871 298h0M963 339h0M934 295h0M974 309h0M960 339h0M858 303h0M928 349h0M934 347h0M935 348h0M935 348h0M876 298h0M875 298h0M927 348h0M982 317h0M970 332h0M848 318h0M982 318h0M862 337h0M974 325h0M980 320h0M925 295h0M946 299h0M926 348h0M965 338h0M933 295h0M925 349h0M970 335h0M948 343h0M888 347h0M889 347h0M937 297h0M963 304h0M881 346h0M922 348h0M922 348h0M894 293h0M921 348h0M981 318h0M897 348h0M896 349h0M865 339h0M914 348h0M916 348h0M917 348h0M917 348h0M918 349h0M908 348h0M949 343h0M949 343h0M923 295h0M907 349h0M965 305h0M897 349h0M859 303h0M980 315h0M848 316h0M981 319h0M981 320h0M940 346h0M961 338h0M902 348h0M877 344h0M980 320h0M947 343h0M921 294h0M922 295h0M936 297h0M943 345h0M968 334h0M968 335h0M974 325h0M860 335h0M859 336h0M968 336h0M968 336h0M967 335h0M867 340h0M970 331h0M960 303h0M981 316h0M959 338h0M966 337h0M882 345h0M969 333h0M969 333h0M968 333h0M872 343h0M961 305h0M891 347h0M981 317h0M948 299h0M949 300h0M945 298h0M979 320h0M848 326h0M848 327h0M954 301h0M967 336h0M967 336h0M929 295h0M889 294h0M928 347h0M959 339h0M959 339h0M968 332h0M978 314h0M978 313h0M881 296h0M919 295h0M919 294h0M952 341h0M953 340h0M962 337h0M947 343h0M927 347h0M864 337h0M970 328h0M939 297h0M939 298h0M944 343h0M942 344h0M897 293h0M980 316h0M968 333h0M934 346h0M973 324h0M851 313h0M883 346h0M906 294h0M906 294h0M976 312h0M934 297h0M925 348h0M979 317h0M975 324h0M968 333h0M978 314h0M893 347h0M946 342h0M947 342h0M977 314h0"/>
<path stroke="#4979f0" d="M968 331h0M966 333h0M916 295h0M874 342h0M873 343h0M971 327h0M971 326h0M883 296h0M894 347h0M853 330h0M886 296h0M883 345h0M959 338h0M959 337h0M955 302h0M946 343h0M945 343h0M851 328h0M915 295h0M872 341h0M926 296h0M947 341h0M948 342h0M914 295h0M854 307h0M856 305h0M969 308h0M925 295h0M976 322h0M955 338h0M971 309h0M949 341h0M949 341h0M856 306h0M970 327h0M968 328h0M896 348h0M897 347h0M966 332h0M865 338h0M962 306h0M931 297h0M871 299h0M910 347h0M967 329h0M880 298h0M964 333h0M961 336h0M946 341h0M955 302h0M955 302h0M906 347h0M906 348h0M875 343h0M977 316h0M860 304h0M904 347h0M973 324h0M972 323h0M892 295h0M966 308h0M867 338h0M875 299h0M940 298h0M931 297h0M956 338h0M961 336h0M967 309h0M944 300h0M922 295h0M886 345h0M885 346h0M970 309h0M970 309h0M958 337h0M936 345h0M965 331h0M870 341h0M962 334h0M929 296h0M960 336h0M854 330h0M868 300h0M849 322h0M881 297h0M963 333h0M964 332h0M962 306h0M962 333h0M888 296h0M976 317h0M971 323h0M956 336h0M936 344h0M876 298h0M858 305h0M859 305h0M929 297h0M975 314h0M952 338h0M886 345h0M853 310h0M852 313h0M852 329h0M972 322h0M967 328h0M963 331h0M908 295h0M973 312h0M973 321h0M955 303h0M955 304h0M938 344h0M962 334h0M961 334h0M969 326h0M941 343h0M851 314h0M965 329h0M859 333h0M956 337h0M948 339h0M946 301h0M946 301h0M975 318h0M953 302h0M952 302h0M952 302h0M869 300h0M971 311h0M972 311h0M960 333h0M895 295h0M855 331h0M885 297h0M885 296h0M962 332h0M962 332h0M974 319h0M949 301h0M927 297h0M955 336h0M918 346h0M857 307h0M857 307h0M956 336h0M974 320h0M972 321h0M883 344h0M973 313h0M850 324h0M974 314h0M863 336h0M962 331h0M963 331h0M876 343h0M877 342h0M969 325h0M946 301h0M888 346h0M957 305h0M956 305h0M956 305h0M916 347h0M940 343h0M940 342h0M958 305h0M956 336h0M965 327h0M915 347h0M945 340h0M945 340h0M974 318h0M931 298h0M931 297h0M966 327h0M924 296h0M948 301h0M937 298h0M870 301h0M883 297h0M973 319h0M915 295h0M852 314h0M899 295h0M850 324h0M898 346h0M898 347h0M881 343h0M967 309h0M945 300h0M957 334h0M910 347h0M854 330h0M954 303h0M973 314h0M954 336h0M859 333h0M860 333h0M866 338h0M900 347h0M935 298h0M908 346h0M908 347h0M901 347h0M900 346h0M924 345h0M907 347h0M969 324h0M969 323h0M878 343h0M974 316h0M973 316h0M965 326h0M947 302h0M891 296h0M867 302h0M890 345h0M974 317h0M850 325h0M861 335h0M849 320h0M849 321h0M974 317h0M961 330h0M849 321h0M969 322h0M970 322h0M924 346h0M962 307h0M954 335h0M871 339h0M964 308h0M970 321h0M972 321h0M930 345h0M934 299h0M971 312h0M970 313h0M851 317h0M858 305h0M892 345h0"/>
<path stroke="#4e80f0" d="M875 299h0M929 298h0M967 323h0M947 301h0M921 297h0M945 339h0M957 333h0M950 303h0M940 342h0M887 344h0M937 343h0M942 300h0M857 306h0M957 306h0M950 337h0M856 331h0M933 298h0M972 316h0M852 326h0M851 326h0M851 326h0M857 307h0M856 307h0M919 296h0M919 297h0M868 301h0M960 308h0M965 325h0M969 322h0M962 308h0M962 309h0M933 344h0M965 310h0M910 296h0M880 299h0M927 345h0M952 304h0M888 297h0M962 327h0M861 333h0M850 317h0M966 324h0M967 323h0M966 324h0M945 302h0M945 301h0M971 314h0M944 340h0M956 333h0M957 332h0M953 334h0M919 297h0M959 330h0M960 329h0M932 299h0M964 326h0M963 326h0M963 325h0M963 326h0M946 338h0M949 303h0M948 303h0M852 328h0M853 312h0M947 338h0M950 336h0M953 304h0M927 344h0M895 345h0M894 345h0M857 331h0M969 321h0M850 323h0M963 310h0M969 320h0M925 298h0M908 296h0M945 301h0M852 316h0M852 315h0M960 327h0M896 345h0M852 314h0M925 344h0M941 301h0M970 313h0M969 313h0M882 298h0M959 330h0M959 329h0M890 296h0M916 345h0M864 335h0M864 336h0M864 336h0M896 296h0M971 319h0M866 302h0M924 297h0M925 297h0M897 346h0M914 345h0M963 325h0M964 324h0M970 316h0M970 315h0M915 297h0M965 311h0M856 331h0M970 317h0M970 316h0M969 320h0M969 320h0M851 320h0M962 309h0M964 324h0M961 309h0M959 308h0M959 307h0M930 344h0M968 312h0M968 313h0M968 312h0M967 313h0M911 345h0M949 336h0M958 329h0M861 333h0M957 330h0M957 331h0M965 323h0M966 323h0M947 336h0M904 296h0M901 346h0M891 344h0M935 300h0M966 311h0M901 345h0M939 341h0M952 333h0M953 334h0M873 340h0M902 295h0M856 309h0M929 344h0M901 295h0M901 296h0M900 296h0M857 307h0M904 345h0M906 346h0M951 305h0M968 319h0M942 301h0M964 311h0M936 341h0M970 317h0M864 334h0M858 331h0M953 306h0M960 309h0M966 312h0M874 301h0M968 315h0M949 336h0M943 338h0M942 338h0M946 302h0M967 314h0M946 337h0M944 337h0M957 330h0M928 343h0M871 302h0M871 302h0M965 311h0M865 336h0M938 341h0M852 317h0M921 297h0M920 344h0M969 316h0M968 315h0M942 301h0M927 298h0M928 298h0M892 345h0M876 340h0M875 341h0M879 299h0M962 311h0M951 305h0M888 298h0M852 323h0M968 316h0M940 339h0M966 313h0M926 344h0M967 315h0M958 308h0M953 305h0M956 308h0M942 339h0M941 339h0M967 318h0M930 342h0M957 329h0M851 319h0M852 318h0M941 302h0M862 304h0M852 316h0M966 321h0M965 321h0M872 302h0M950 333h0M950 333h0M951 334h0M951 333h0M968 317h0M967 318h0M931 299h0M894 345h0M909 297h0M965 313h0M860 306h0M960 310h0M894 296h0M888 297h0M885 299h0M943 303h0M966 313h0M854 327h0M860 332h0"/>
<path stroke="#5288f0" d="M880 342h0M884 343h0M930 343h0M889 343h0M967 318h0M967 319h0M947 336h0M947 335h0M918 298h0M935 301h0M936 301h0M955 307h0M962 311h0M939 302h0M960 325h0M966 319h0M935 340h0M936 341h0M966 316h0M967 315h0M858 308h0M966 318h0M955 329h0M933 341h0M894 297h0M897 345h0M852 324h0M853 324h0M873 302h0M907 296h0M866 303h0M962 322h0M965 315h0M928 342h0M937 340h0M947 334h0M965 319h0M962 321h0M963 321h0M885 342h0M946 304h0M914 345h0M862 305h0M895 297h0M858 331h0M964 320h0M946 336h0M950 306h0M950 306h0M899 344h0M942 338h0M966 316h0M953 306h0M864 304h0M864 305h0M863 304h0M965 317h0M966 317h0M958 325h0M932 341h0M955 328h0M956 327h0M891 343h0M962 313h0M960 310h0M960 311h0M871 338h0M923 298h0M927 343h0M877 341h0M910 345h0M911 345h0M873 302h0M933 301h0M933 300h0M904 297h0M905 296h0M965 319h0M964 318h0M870 302h0M914 297h0M961 322h0M902 344h0M897 296h0M937 302h0M947 335h0M960 312h0M860 331h0M964 318h0M898 297h0M899 297h0M899 296h0M899 296h0M866 334h0M903 297h0M882 300h0M965 316h0M940 337h0M941 337h0M901 297h0M934 340h0M933 340h0M951 306h0M927 299h0M964 315h0M956 326h0M933 300h0M921 343h0M963 313h0M940 303h0M941 303h0M951 331h0M856 310h0M893 344h0M963 320h0M943 304h0M952 329h0M891 297h0M892 297h0M957 310h0M957 310h0M853 321h0M963 317h0M936 340h0M859 307h0M945 335h0M927 300h0M926 299h0M863 305h0M925 343h0M954 309h0M860 330h0M854 325h0M962 314h0M938 339h0M858 309h0M948 333h0M962 318h0M963 319h0M961 314h0M962 313h0M951 307h0M874 338h0M879 300h0M957 325h0M957 324h0M867 304h0M872 338h0M959 321h0M963 315h0M926 300h0M943 303h0M947 334h0M895 343h0M910 298h0M955 310h0M956 310h0M954 328h0M954 328h0M952 329h0M872 302h0M858 329h0M962 318h0M960 314h0M888 343h0M895 344h0M880 341h0M854 326h0M854 326h0M883 341h0M916 344h0M961 319h0M853 323h0M948 332h0M894 297h0M950 306h0M885 300h0M959 322h0M918 298h0M923 342h0M957 324h0M866 304h0M865 304h0M915 343h0M955 325h0M869 304h0M960 314h0M864 333h0M863 332h0M863 332h0M928 342h0M928 342h0M953 326h0"/>
<path stroke="#568eef" d="M894 298h0M894 297h0M958 312h0M933 339h0M915 343h0M917 299h0M950 330h0M952 328h0M875 338h0M947 305h0M908 297h0M884 341h0M929 301h0M914 343h0M959 320h0M936 338h0M936 338h0M881 340h0M880 341h0M951 308h0M854 318h0M853 319h0M923 300h0M900 344h0M866 333h0M955 323h0M854 322h0M853 321h0M855 324h0M855 324h0M957 311h0M959 318h0M959 318h0M877 340h0M921 342h0M859 309h0M859 309h0M955 325h0M878 301h0M958 312h0M896 298h0M937 302h0M937 302h0M947 332h0M911 344h0M885 341h0M958 320h0M867 304h0M860 329h0M904 297h0M910 344h0M922 300h0M921 300h0M921 299h0M939 304h0M904 298h0M920 343h0M907 344h0M904 343h0M948 306h0M907 343h0M905 343h0M949 330h0M949 308h0M949 308h0M899 297h0M926 341h0M926 341h0M936 337h0M932 301h0M865 306h0M901 298h0M901 298h0M900 297h0M886 300h0M926 301h0M927 300h0M859 328h0M935 303h0M958 314h0M856 313h0M879 301h0M953 310h0M869 335h0M869 335h0M953 325h0M954 325h0M857 326h0M944 305h0M879 340h0M891 298h0M892 299h0M913 298h0M956 321h0M956 320h0M872 337h0M856 314h0M893 343h0M893 343h0M957 314h0M954 310h0M953 311h0M947 330h0M935 302h0M934 339h0M934 339h0M950 328h0M948 329h0M867 334h0M854 317h0M956 312h0M855 322h0M894 343h0M958 316h0M892 298h0M880 301h0M861 329h0M863 331h0M938 303h0M856 324h0M856 325h0M859 311h0M859 311h0M928 341h0M931 340h0M910 298h0M875 302h0M866 306h0M865 306h0M941 304h0M860 309h0M957 315h0M956 314h0M880 339h0M888 342h0M957 319h0M957 318h0M957 318h0M941 335h0M940 335h0M952 325h0M951 326h0M951 326h0M857 313h0M947 330h0M854 319h0M955 313h0M956 318h0M944 333h0M956 317h0M947 329h0M948 330h0M948 330h0M884 301h0M950 327h0M954 322h0M935 337h0M949 329h0M865 333h0M865 333h0M950 310h0M942 305h0M874 337h0M875 338h0M927 341h0M933 302h0M952 324h0M952 324h0M873 336h0M940 305h0M940 304h0"/>
<path stroke="#5893ed" d="M942 334h0M955 315h0M949 309h0M945 306h0M899 342h0M881 340h0M881 340h0M880 340h0M880 339h0M881 339h0M890 299h0M896 298h0M896 298h0M856 317h0M953 311h0M952 312h0M953 311h0M866 305h0M945 330h0M907 298h0M938 336h0M886 300h0M885 301h0M885 300h0M942 332h0M950 326h0M950 310h0M897 298h0M862 330h0M934 338h0M912 342h0M911 342h0M948 328h0M948 329h0M920 341h0M955 314h0M886 340h0M891 342h0M892 341h0M891 341h0M904 299h0M941 334h0M940 333h0M941 333h0M941 333h0M955 318h0M955 318h0M874 304h0M947 308h0M914 300h0M953 320h0M856 325h0M909 343h0M890 300h0M891 299h0M904 299h0M904 342h0M898 299h0M899 299h0M859 310h0M875 337h0M907 342h0M908 343h0M954 318h0M955 318h0M955 318h0M950 324h0M899 299h0M930 303h0M861 328h0M952 321h0M855 322h0M893 342h0M941 305h0M887 300h0M944 330h0M930 338h0M913 299h0M866 332h0M866 333h0M855 318h0M855 319h0M855 319h0M954 319h0M954 320h0M886 340h0M868 306h0M868 305h0M867 306h0M860 327h0M953 315h0M954 315h0M946 329h0M948 326h0M935 337h0M934 336h0M933 338h0M932 337h0M932 337h0M927 340h0M927 339h0M927 340h0M863 308h0M858 327h0M859 326h0M857 316h0M947 327h0M946 329h0M947 328h0M946 328h0M919 341h0M875 303h0M913 300h0M949 311h0M945 307h0M953 316h0M865 307h0M951 323h0M954 317h0M887 340h0M951 313h0M951 313h0M951 313h0M887 300h0M895 341h0M911 300h0M863 330h0M918 300h0M859 313h0M859 312h0M858 312h0M947 309h0M940 333h0M936 336h0M863 308h0M863 309h0M926 339h0M949 325h0M929 303h0M856 317h0M933 304h0M944 329h0M945 329h0M880 338h0M916 342h0M916 341h0M868 305h0M948 327h0M946 327h0M943 307h0M943 307h0M893 299h0M894 299h0M893 299h0M949 310h0M938 334h0M857 323h0M859 311h0M859 311h0M861 328h0M874 336h0M952 318h0M861 310h0M862 309h0M942 331h0M941 332h0M942 331h0M953 316h0M873 335h0M935 305h0M936 305h0M909 299h0M951 312h0M860 310h0M860 311h0"/>
<path stroke="#5a97eb" d="M937 335h0M928 338h0M922 341h0M889 340h0M947 310h0M859 326h0M909 299h0M939 332h0M940 332h0M917 300h0M860 326h0M859 326h0M872 305h0M876 304h0M885 340h0M943 329h0M907 299h0M857 318h0M881 339h0M899 342h0M932 336h0M933 337h0M950 323h0M950 322h0M948 311h0M948 310h0M890 301h0M934 305h0M935 304h0M947 327h0M856 320h0M870 305h0M859 314h0M857 319h0M945 327h0M926 302h0M952 318h0M951 321h0M937 333h0M952 316h0M951 316h0M907 300h0M949 311h0M899 342h0M950 313h0M858 316h0M857 323h0M857 324h0M863 309h0M905 300h0M905 299h0M912 342h0M945 310h0M898 299h0M951 314h0M950 315h0M951 319h0M940 307h0M886 339h0M950 322h0M949 322h0M872 334h0M942 331h0M942 330h0M948 325h0M874 305h0M874 305h0M899 300h0M938 333h0M914 301h0M904 300h0M904 299h0M943 309h0M944 309h0M941 307h0M863 328h0M933 335h0M881 339h0M865 308h0M901 299h0M901 300h0M950 319h0M951 319h0M929 337h0M930 338h0M904 341h0M942 330h0M943 329h0M947 326h0M950 316h0M908 341h0M859 325h0M948 323h0M906 341h0M906 341h0M858 317h0M858 316h0M950 317h0M950 317h0M950 316h0M947 312h0M947 311h0M949 312h0M950 321h0M949 321h0M950 320h0M887 301h0M865 331h0M861 327h0M918 340h0M939 307h0M878 304h0M879 303h0M875 305h0M949 319h0M935 334h0M934 335h0M949 322h0M948 322h0M940 307h0M947 325h0M937 332h0M937 333h0M950 316h0M923 340h0M948 313h0M928 338h0M892 300h0M941 329h0M865 308h0M865 309h0M945 325h0M950 317h0M912 300h0M872 305h0M947 312h0M923 303h0M943 329h0M945 327h0M945 327h0M859 323h0M858 324h0M860 314h0M949 320h0M948 321h0M858 319h0M866 307h0M866 308h0M931 305h0M939 332h0"/>
<path stroke="#5b9cea" d="M935 333h0M917 341h0M874 335h0M859 315h0M858 316h0M928 303h0M943 309h0M879 303h0M911 300h0M875 304h0M934 306h0M896 341h0M948 319h0M889 339h0M921 339h0M922 339h0M940 331h0M915 340h0M889 302h0M922 303h0M909 300h0M909 301h0M945 310h0M945 310h0M949 319h0M895 300h0M941 330h0M862 310h0M862 311h0M931 305h0M931 305h0M930 305h0M931 305h0M949 318h0M948 318h0M949 318h0M862 312h0M945 312h0M932 336h0M946 312h0M947 313h0M947 313h0M885 303h0M914 340h0M924 339h0M925 338h0M925 339h0M909 301h0M860 326h0M941 328h0M862 326h0M859 317h0M947 321h0M898 340h0M943 326h0M943 327h0M921 339h0M877 336h0M943 309h0M877 305h0M907 301h0M865 308h0M939 307h0M872 333h0M898 341h0M868 307h0M941 309h0M866 330h0M907 301h0M915 301h0M859 321h0M938 330h0M929 305h0M930 304h0M913 340h0M891 340h0M948 315h0M947 315h0M876 335h0M946 314h0M897 301h0M947 318h0M944 324h0M911 341h0M948 316h0M948 316h0M947 316h0M935 307h0M944 311h0M944 312h0M860 324h0M940 329h0M940 330h0M945 313h0M873 305h0M899 300h0M932 305h0M859 321h0M891 301h0M931 335h0M944 325h0M871 307h0M861 314h0M860 314h0M928 337h0M910 340h0M911 340h0M864 309h0M902 340h0M902 340h0M891 339h0M941 327h0M903 341h0M937 308h0M946 314h0M928 304h0M939 308h0M918 339h0M933 333h0M879 337h0M907 341h0M904 340h0M905 340h0M906 341h0M906 341h0M863 328h0M863 327h0M864 328h0M864 327h0M946 320h0M946 320h0M944 323h0M944 324h0M914 301h0M920 303h0M919 302h0M922 338h0M937 331h0M867 309h0M925 337h0M932 305h0M863 326h0M862 326h0M946 318h0M886 339h0"/>
<path stroke="#5da1e8" d="M875 305h0M947 317h0M947 317h0M918 340h0M918 339h0M934 333h0M934 332h0M928 305h0M928 305h0M941 309h0M941 309h0M860 317h0M928 337h0M929 335h0M893 339h0M893 339h0M894 339h0M892 302h0M940 329h0M940 329h0M937 307h0M883 338h0M945 320h0M918 302h0M941 327h0M942 327h0M946 314h0M946 314h0M888 303h0M888 302h0M922 338h0M869 331h0M933 333h0M934 306h0M945 319h0M945 320h0M946 319h0M946 320h0M941 311h0M866 310h0M866 310h0M944 324h0M943 324h0M894 301h0M945 316h0M944 313h0M937 330h0M876 305h0M927 304h0M917 303h0M917 302h0M942 312h0M943 311h0M880 305h0M859 320h0M930 334h0M940 310h0M933 333h0M888 302h0M888 302h0M859 320h0M872 307h0M927 337h0M909 301h0M865 310h0M862 324h0M939 328h0M938 328h0M945 321h0M929 305h0M944 314h0M944 315h0M944 314h0M861 315h0M943 322h0M943 323h0M915 339h0M914 340h0M941 327h0M917 303h0M917 302h0M916 302h0M877 335h0M921 304h0M895 301h0M864 312h0M923 338h0M884 304h0M861 322h0M861 323h0M873 334h0M881 337h0M944 314h0M898 339h0M898 339h0M880 304h0M942 323h0M942 324h0M896 301h0M897 301h0M875 335h0M943 321h0M943 322h0M936 331h0M884 337h0M884 338h0M907 302h0M897 301h0M938 310h0M898 340h0M912 339h0M929 305h0M861 317h0M873 306h0M926 337h0M926 337h0M926 336h0M936 309h0M937 330h0M898 302h0M899 302h0M861 315h0M862 315h0M890 339h0M900 340h0"/>
<path stroke="#5fa6e5" d="M944 314h0M911 339h0M912 339h0M869 308h0M868 308h0M868 309h0M943 321h0M937 329h0M903 301h0M904 301h0M860 321h0M861 322h0M861 322h0M942 323h0M900 302h0M901 302h0M940 327h0M940 326h0M919 339h0M919 339h0M902 302h0M867 329h0M867 328h0M862 324h0M862 323h0M862 323h0M861 323h0M914 303h0M911 340h0M940 310h0M882 305h0M861 318h0M886 338h0M885 338h0M886 337h0M933 332h0M902 339h0M902 340h0M943 316h0M865 310h0M866 311h0M863 314h0M863 314h0M860 321h0M940 312h0M873 332h0M872 332h0M903 340h0M909 339h0M865 327h0M865 327h0M943 318h0M943 317h0M860 318h0M870 331h0M863 324h0M938 309h0M937 309h0M903 340h0M904 340h0M908 339h0M930 306h0M931 307h0M913 302h0M924 304h0M923 305h0M860 320h0M934 331h0M907 339h0M935 309h0M871 308h0M874 306h0M924 336h0M865 312h0M863 326h0M922 338h0M862 316h0M861 315h0M861 315h0M862 316h0M929 334h0M929 334h0M942 315h0M882 304h0M940 325h0M892 302h0M893 303h0M942 323h0M870 308h0M869 330h0M932 308h0M933 307h0M932 307h0M932 307h0M941 314h0M942 316h0M893 338h0M930 307h0M929 306h0M929 307h0M888 303h0M939 312h0M940 311h0M872 332h0M933 332h0M911 303h0M880 335h0M940 312h0M921 337h0M920 338h0M921 338h0M920 337h0M920 337h0M920 338h0M934 308h0M861 316h0M924 336h0M873 308h0M933 331h0M861 322h0M910 303h0M911 303h0M925 305h0M894 302h0M928 335h0M935 329h0M922 304h0M874 332h0M942 321h0M939 326h0M877 335h0M877 335h0M877 334h0"/>
<path stroke="#60aae0" d="M863 314h0M864 314h0M941 323h0M941 322h0M941 322h0M863 325h0M864 325h0M861 321h0M862 320h0M916 303h0M875 333h0M876 334h0M941 314h0M941 314h0M940 313h0M941 314h0M865 312h0M862 319h0M862 318h0M938 312h0M939 312h0M933 308h0M908 302h0M908 303h0M935 310h0M942 320h0M941 319h0M940 312h0M940 313h0M923 336h0M913 338h0M897 338h0M884 305h0M897 302h0M862 315h0M862 315h0M862 315h0M941 319h0M940 323h0M925 305h0M908 303h0M890 304h0M921 305h0M921 305h0M880 306h0M940 322h0M941 322h0M862 323h0M863 322h0M897 302h0M898 302h0M897 302h0M915 304h0M916 304h0M913 339h0M913 339h0M898 339h0M897 338h0M931 307h0M930 308h0M940 315h0M940 315h0M939 325h0M939 324h0M899 303h0M872 332h0M911 339h0M911 339h0M933 330h0M933 330h0M937 326h0M938 325h0M901 303h0M903 303h0M902 302h0M901 303h0M933 309h0M935 329h0M935 329h0M939 314h0M934 310h0M863 314h0M863 317h0M862 316h0M862 316h0M923 306h0M924 306h0M924 306h0M878 334h0M878 335h0M879 335h0M938 311h0M937 312h0M941 315h0M899 339h0M869 328h0M919 304h0M920 305h0M878 306h0M939 313h0M938 313h0M941 320h0M862 322h0M882 306h0M882 335h0M869 309h0M909 339h0M940 317h0M940 317h0M930 307h0M930 307h0M941 319h0M940 319h0M926 306h0M875 308h0M874 308h0M867 311h0M940 317h0M941 317h0M931 331h0M864 314h0M940 321h0M913 303h0M913 303h0M927 333h0M865 325h0M908 339h0M908 338h0M924 335h0M940 315h0M862 321h0M935 311h0M904 338h0M904 338h0M904 338h0M904 338h0M925 335h0M925 334h0M926 335h0M917 338h0M938 324h0M938 324h0M921 336h0M931 309h0M862 319h0M862 320h0M863 319h0"/>
<path stroke="#61aeda" d="M912 303h0M892 303h0M932 329h0M939 314h0M883 306h0M938 322h0M939 322h0M939 316h0M873 309h0M937 313h0M928 308h0M882 336h0M870 330h0M940 320h0M915 338h0M915 338h0M916 338h0M874 331h0M875 307h0M911 304h0M939 316h0M918 305h0M918 304h0M918 305h0M918 305h0M871 310h0M939 317h0M920 336h0M920 337h0M929 332h0M930 331h0M926 333h0M927 333h0M930 308h0M939 314h0M865 314h0M864 315h0M869 329h0M877 333h0M877 334h0M910 304h0M910 303h0M875 332h0M876 333h0M887 337h0M887 336h0M915 338h0M865 323h0M864 323h0M863 317h0M925 335h0M925 334h0M933 309h0M933 309h0M933 309h0M933 309h0M894 304h0M880 307h0M879 307h0M863 322h0M864 321h0M936 325h0M931 331h0M936 311h0M916 304h0M916 305h0M917 304h0M917 305h0M938 314h0M938 321h0M939 320h0M884 335h0M883 335h0M884 336h0M936 326h0M936 312h0M865 324h0M865 325h0M938 323h0M914 337h0M919 337h0M919 336h0M877 307h0M934 327h0M864 317h0M864 318h0M927 333h0M928 333h0M928 333h0M867 325h0M895 338h0M896 337h0M881 334h0M880 335h0M922 335h0M921 335h0M939 316h0M870 310h0M869 310h0M870 311h0M870 310h0M934 310h0M884 306h0M864 319h0M939 318h0M915 305h0M871 309h0M889 304h0M889 305h0M923 307h0M932 309h0M897 338h0M925 334h0M937 321h0M926 308h0M928 331h0M929 331h0M898 303h0M898 303h0"/>
<path stroke="#62b2d4" d="M871 329h0M875 331h0M906 304h0M906 303h0M917 337h0M918 337h0M884 336h0M912 337h0M912 337h0M900 303h0M899 303h0M899 303h0M920 305h0M920 305h0M878 333h0M897 337h0M904 303h0M935 325h0M935 325h0M937 314h0M936 314h0M904 303h0M877 308h0M877 308h0M877 308h0M938 320h0M938 321h0M937 320h0M890 304h0M920 335h0M899 337h0M928 308h0M936 322h0M882 334h0M882 334h0M866 323h0M865 323h0M865 324h0M926 332h0M922 307h0M922 306h0M932 311h0M932 311h0M934 326h0M865 316h0M937 319h0M909 338h0M933 328h0M899 338h0M864 321h0M891 336h0M916 336h0M916 337h0M931 309h0M930 310h0M867 312h0M867 313h0M866 314h0M913 305h0M937 317h0M909 338h0M873 309h0M870 328h0M870 311h0M923 334h0M937 314h0M873 331h0M874 331h0M867 325h0M866 325h0M866 324h0M924 333h0M936 324h0M901 337h0M901 337h0M936 322h0M868 326h0M933 312h0M933 311h0M907 337h0M865 321h0M906 338h0M904 338h0M879 307h0M935 313h0M935 314h0M935 314h0M913 304h0M913 304h0M927 309h0M927 308h0M893 305h0M893 304h0M893 304h0M934 325h0M934 325h0M934 325h0M921 306h0M880 333h0M880 334h0M865 318h0M865 319h0M883 307h0M882 306h0M918 305h0M866 316h0M928 330h0M925 307h0M931 311h0M932 310h0M876 332h0M882 335h0M882 335h0M865 323h0M865 323h0M929 310h0M929 310h0M936 322h0M936 323h0M926 333h0M925 332h0M930 329h0M894 304h0M936 320h0M936 320h0M936 319h0M932 326h0M932 326h0M915 336h0M887 305h0M930 328h0M931 328h0M930 328h0M930 328h0"/>
<path stroke="#62b6cf" d="M936 319h0M936 318h0M937 318h0M937 317h0M874 309h0M873 310h0M932 312h0M911 304h0M910 305h0M911 304h0M871 311h0M879 308h0M880 308h0M920 307h0M895 305h0M894 305h0M927 308h0M935 323h0M934 324h0M935 324h0M869 313h0M868 313h0M894 336h0M872 329h0M884 307h0M884 306h0M865 317h0M868 314h0M934 313h0M933 313h0M924 307h0M865 321h0M866 321h0M928 309h0M884 334h0M875 331h0M871 328h0M933 324h0M933 324h0M934 325h0M894 337h0M894 337h0M895 337h0M918 335h0M917 335h0M869 327h0M897 305h0M896 305h0M912 336h0M913 336h0M912 337h0M912 336h0M913 336h0M921 334h0M915 305h0M916 306h0M915 305h0M933 325h0M935 323h0M935 323h0M866 320h0M865 320h0M919 307h0M889 336h0M928 329h0M881 308h0M881 307h0M881 307h0M880 308h0M925 308h0M896 336h0M896 336h0M877 332h0M871 312h0M870 311h0M932 312h0M932 311h0M931 312h0M931 311h0M879 332h0M922 334h0M874 309h0M935 315h0M936 318h0M866 319h0M929 328h0M929 329h0M866 315h0M867 315h0M930 328h0M906 305h0M923 307h0M923 308h0M911 337h0M911 337h0M866 323h0M873 330h0M899 305h0M934 313h0M896 337h0M897 337h0M915 305h0M933 323h0M933 324h0M934 324h0M885 334h0M884 334h0M884 335h0M930 310h0M904 305h0M905 305h0M917 335h0M916 336h0M916 335h0M900 304h0M902 305h0M903 304h0M926 331h0M925 332h0M870 313h0M934 315h0M919 307h0M919 334h0M881 334h0"/>
<path stroke="#63bac9" d="M881 307h0M882 307h0M872 329h0M867 323h0M866 317h0M926 331h0M927 331h0M927 331h0M927 331h0M922 308h0M924 332h0M923 333h0M930 312h0M867 322h0M867 321h0M866 322h0M934 317h0M934 317h0M921 333h0M922 334h0M915 336h0M916 336h0M916 336h0M875 330h0M875 331h0M876 309h0M933 315h0M892 306h0M892 305h0M900 337h0M890 336h0M891 335h0M886 335h0M934 317h0M927 329h0M927 329h0M868 325h0M934 318h0M908 336h0M907 336h0M930 327h0M931 327h0M929 311h0M871 312h0M880 332h0M879 332h0M880 332h0M932 313h0M931 313h0M918 306h0M930 327h0M933 313h0M913 305h0M912 305h0M869 325h0M906 336h0M877 332h0M887 307h0M886 306h0M886 307h0M866 318h0M902 336h0M866 320h0M867 320h0M906 336h0M905 337h0M903 336h0M933 324h0M905 337h0M904 337h0M933 321h0M892 305h0M915 336h0M925 331h0M924 332h0M883 334h0M882 333h0M924 308h0M892 336h0M891 335h0M933 315h0M866 318h0M867 320h0M866 319h0M912 305h0M868 323h0M867 323h0M868 323h0M874 329h0M870 313h0M930 311h0M930 311h0M887 334h0M921 333h0M921 334h0M920 333h0M934 320h0M894 306h0M917 306h0M926 310h0M868 315h0M934 316h0M933 316h0M926 331h0M879 309h0M879 309h0M914 336h0M913 336h0M927 311h0M932 314h0M932 314h0M933 315h0M870 313h0M910 305h0M932 322h0M917 335h0M934 320h0M933 320h0M933 319h0M933 319h0M931 312h0M930 313h0M934 318h0M934 318h0M895 305h0"/>
<path stroke="#64bec4" d="M927 329h0M883 308h0M883 308h0M874 328h0M868 323h0M869 323h0M868 324h0M881 333h0M881 333h0M868 317h0M872 311h0M873 312h0M872 311h0M874 310h0M909 305h0M910 305h0M910 305h0M928 327h0M928 327h0M913 335h0M912 336h0M888 334h0M895 306h0M895 305h0M879 332h0M932 322h0M924 331h0M932 316h0M932 315h0M932 316h0M873 327h0M869 324h0M909 305h0M920 333h0M896 306h0M896 305h0M897 306h0M925 309h0M925 310h0M880 309h0M871 327h0M872 327h0M871 326h0M922 333h0M926 310h0M926 310h0M912 336h0M912 335h0M912 336h0M877 309h0M907 305h0M897 306h0M897 305h0M897 305h0M933 320h0M930 325h0M930 325h0M930 324h0M868 315h0M868 315h0M872 313h0M871 313h0M932 317h0M929 312h0M918 308h0M907 306h0M925 331h0M889 335h0M889 335h0M868 318h0M867 319h0M868 319h0M867 319h0M876 330h0M933 320h0M931 322h0M931 322h0M932 322h0M896 335h0M930 326h0M929 325h0M930 325h0M885 333h0M870 314h0M870 315h0M869 315h0M871 314h0M905 306h0M905 305h0M900 306h0M881 333h0M882 332h0M904 306h0M904 306h0M875 310h0M916 334h0M902 305h0M874 311h0M929 327h0M918 333h0M897 336h0M928 312h0M927 329h0M926 328h0M927 328h0M890 307h0M891 307h0M890 306h0M891 306h0M914 306h0M923 332h0M922 331h0M922 332h0M889 334h0M932 321h0M931 321h0M877 330h0M930 324h0"/>
<path stroke="#6bc0b8" d="M869 317h0M869 317h0M879 331h0M880 331h0M920 332h0M870 324h0M897 335h0M909 336h0M868 321h0M868 321h0M868 321h0M929 313h0M929 313h0M928 312h0M931 314h0M931 314h0M931 316h0M932 317h0M932 317h0M891 307h0M892 306h0M931 321h0M886 334h0M929 314h0M930 313h0M929 313h0M929 325h0M929 325h0M873 313h0M873 313h0M924 330h0M923 331h0M890 334h0M906 336h0M868 317h0M869 318h0M869 317h0M868 317h0M918 334h0M886 307h0M886 308h0M931 322h0M883 332h0M873 326h0M871 326h0M923 310h0M923 309h0M870 316h0M900 336h0M869 321h0M868 320h0M906 336h0M906 335h0M917 307h0M929 325h0M893 307h0M893 307h0M905 335h0M875 312h0M925 329h0M924 310h0M903 336h0M904 336h0M913 335h0M871 314h0M877 330h0M931 316h0M931 316h0M870 314h0M921 331h0M921 331h0M921 331h0M880 309h0M880 309h0M891 335h0M892 334h0M891 334h0M891 335h0M892 334h0M926 328h0M926 327h0M887 334h0M887 334h0M930 322h0M893 307h0M928 312h0M927 313h0M929 323h0M929 324h0M929 324h0M929 324h0M911 306h0M887 308h0M879 330h0M879 331h0M879 331h0M878 330h0M916 333h0M930 316h0M930 317h0M916 308h0M915 307h0M884 308h0M884 309h0M894 307h0M895 306h0M931 320h0M930 321h0M931 320h0M931 320h0M921 309h0M869 317h0M869 317h0M892 334h0M892 335h0M892 334h0M893 335h0M876 328h0M875 328h0M875 329h0"/>
<path stroke="#73c3ac" d="M909 307h0M923 331h0M883 333h0M884 332h0M884 333h0M870 324h0M871 323h0M931 317h0M873 312h0M874 312h0M874 313h0M873 312h0M878 310h0M878 310h0M877 310h0M923 311h0M924 311h0M918 308h0M870 321h0M869 321h0M869 322h0M869 322h0M930 319h0M930 319h0M895 306h0M896 306h0M887 334h0M889 307h0M888 307h0M880 310h0M880 310h0M911 335h0M911 335h0M919 333h0M918 333h0M876 311h0M930 315h0M929 316h0M930 316h0M893 335h0M894 334h0M874 327h0M914 307h0M915 308h0M914 307h0M871 324h0M871 324h0M872 324h0M870 316h0M870 317h0M915 334h0M927 312h0M926 312h0M927 312h0M872 314h0M873 313h0M885 308h0M872 326h0M872 326h0M924 328h0M870 320h0M928 315h0M926 327h0M925 328h0M929 321h0M929 322h0M871 315h0M872 314h0M878 329h0M877 329h0M878 329h0M928 314h0M929 323h0M929 323h0M894 334h0M894 334h0M869 318h0M869 319h0M889 308h0M890 308h0M899 307h0M869 320h0M929 316h0M917 309h0M917 309h0M885 333h0M888 334h0M889 334h0M924 312h0M906 306h0M899 307h0M879 331h0M880 330h0M879 331h0M923 310h0M923 310h0M923 310h0M871 323h0M914 308h0M913 307h0M905 307h0M903 306h0M882 310h0M882 309h0M909 334h0M910 334h0M902 306h0M929 318h0M895 335h0M896 335h0M915 334h0M927 324h0M875 313h0M874 313h0M875 313h0M890 307h0M870 317h0M871 316h0M920 332h0M919 331h0M876 311h0M928 322h0M928 316h0M929 315h0M877 329h0M925 313h0M926 312h0"/>
<path stroke="#7bc5a0" d="M889 334h0M889 334h0M913 307h0M919 310h0M927 326h0M927 326h0M916 308h0M916 309h0M927 315h0M928 315h0M927 314h0M927 314h0M907 334h0M907 334h0M885 333h0M898 335h0M898 334h0M891 308h0M891 307h0M925 326h0M924 311h0M924 329h0M921 310h0M928 321h0M928 321h0M925 327h0M924 328h0M929 317h0M929 317h0M928 317h0M876 327h0M882 310h0M870 317h0M927 324h0M906 334h0M906 335h0M907 334h0M898 335h0M887 309h0M887 309h0M917 332h0M873 315h0M912 308h0M878 330h0M878 330h0M920 330h0M921 331h0M871 321h0M905 335h0M874 327h0M873 326h0M873 325h0M874 326h0M928 321h0M929 320h0M880 331h0M881 331h0M892 308h0M893 307h0M928 318h0M904 335h0M901 335h0M901 335h0M901 334h0M870 319h0M924 313h0M918 309h0M918 310h0M929 320h0M903 334h0M904 335h0M901 335h0M929 318h0M929 318h0M913 334h0M878 311h0M928 316h0M928 315h0M927 316h0M927 325h0M911 308h0M911 308h0M872 322h0M927 322h0M893 307h0M926 313h0M927 315h0M921 330h0M921 310h0M921 311h0M884 331h0M910 308h0M910 308h0M909 308h0M877 328h0"/>
<path stroke="#83c794" d="M881 311h0M911 333h0M894 308h0M894 307h0M895 308h0M927 317h0M874 313h0M874 313h0M874 314h0M928 322h0M923 327h0M923 327h0M923 328h0M893 334h0M892 334h0M892 333h0M873 323h0M917 310h0M917 309h0M926 324h0M908 308h0M909 308h0M908 307h0M920 330h0M919 330h0M920 331h0M920 330h0M920 330h0M873 316h0M872 316h0M872 315h0M871 322h0M872 322h0M888 308h0M917 331h0M918 331h0M896 308h0M874 314h0M873 314h0M927 318h0M928 317h0M927 321h0M928 320h0M927 320h0M927 320h0M878 312h0M879 311h0M926 316h0M927 315h0M877 312h0M877 313h0M876 313h0M876 312h0M876 312h0M907 307h0M907 307h0M884 310h0M928 319h0M928 319h0M927 318h0M928 319h0M927 319h0M927 320h0M914 332h0M914 332h0M915 333h0M914 332h0M873 325h0M874 324h0M919 310h0M894 333h0M893 333h0M913 308h0M922 311h0M924 313h0M925 313h0M924 313h0M925 325h0M926 325h0M926 325h0M926 314h0M926 315h0M871 321h0M871 321h0M871 320h0M876 326h0M875 325h0M874 326h0M884 332h0M884 332h0M871 318h0M882 310h0M882 311h0M927 323h0M920 330h0M890 308h0M890 308h0M889 308h0M872 319h0M871 319h0M909 333h0M910 333h0M910 334h0M909 334h0M898 308h0M917 309h0M917 309h0M889 332h0M895 333h0M894 333h0M899 308h0M899 308h0M904 308h0M905 308h0M905 307h0M901 307h0M904 308h0M916 332h0M873 317h0M872 317h0M902 307h0M922 329h0M922 329h0M921 328h0M921 328h0M912 309h0M913 309h0M912 308h0M913 308h0M875 313h0M918 330h0M919 331h0M885 310h0M886 309h0M885 309h0M886 310h0M927 322h0M913 333h0M913 333h0M878 329h0M878 329h0M923 327h0"/>
<path stroke="#8bca88" d="M923 328h0M890 309h0M896 333h0M926 323h0M919 311h0M919 311h0M919 310h0M882 331h0M925 316h0M925 316h0M927 321h0M921 311h0M920 312h0M920 312h0M920 311h0M873 315h0M874 316h0M875 315h0M878 312h0M880 330h0M883 310h0M889 333h0M889 333h0M890 332h0M890 332h0M890 332h0M926 319h0M927 319h0M924 314h0M925 314h0M925 315h0M915 310h0M897 334h0M912 309h0M911 308h0M891 308h0M891 309h0M892 309h0M873 318h0M872 317h0M873 317h0M877 328h0M912 332h0M919 330h0M919 329h0M920 329h0M925 324h0M925 325h0M925 325h0M924 325h0M887 310h0M898 334h0M925 323h0M926 322h0M915 332h0M926 317h0M925 316h0M925 316h0M874 324h0M875 324h0M874 325h0M872 321h0M873 321h0M899 334h0M898 334h0M898 334h0M898 333h0M876 327h0M877 327h0M918 330h0M873 318h0M910 309h0M910 309h0M910 308h0M911 309h0M893 308h0M893 308h0M892 308h0M892 308h0M893 308h0M923 326h0M875 325h0M918 311h0M905 334h0M904 333h0M905 334h0M921 328h0M872 320h0M899 333h0M899 334h0M899 334h0M880 312h0M876 313h0M877 313h0M915 309h0M914 309h0M914 309h0M919 311h0M919 311h0M904 333h0M912 332h0M903 334h0M903 334h0M926 318h0M925 318h0M926 318h0M921 327h0M922 327h0M901 334h0M901 333h0M925 316h0M924 315h0M924 315h0M925 315h0M873 317h0M874 317h0M874 316h0M873 316h0M887 310h0M887 309h0M923 314h0M922 313h0M879 328h0M880 328h0M880 329h0M873 323h0M873 322h0M924 323h0M924 324h0M894 308h0M894 309h0M910 309h0M910 309h0"/>
<path stroke="#93cc7c" d="M923 314h0M923 315h0M925 320h0M926 319h0M925 319h0M892 333h0M892 332h0M891 333h0M875 314h0M876 314h0M875 315h0M914 331h0M926 319h0M925 320h0M925 320h0M882 330h0M874 315h0M918 329h0M919 329h0M918 329h0M909 309h0M908 309h0M909 308h0M910 333h0M911 332h0M913 309h0M913 309h0M917 311h0M917 311h0M923 325h0M925 322h0M885 311h0M885 310h0M874 317h0M881 311h0M879 328h0M878 327h0M879 328h0M896 309h0M908 308h0M884 331h0M885 330h0M920 329h0M920 329h0M919 328h0M877 314h0M878 313h0M896 309h0M914 331h0M913 331h0M913 331h0M914 331h0M914 332h0M910 332h0M925 321h0M907 309h0M906 308h0M906 309h0M875 324h0M880 312h0M879 312h0M879 312h0M874 318h0M874 319h0M873 318h0M874 318h0M877 326h0M922 314h0M923 314h0M920 327h0M921 328h0M921 326h0M921 326h0M921 327h0M913 309h0M912 310h0M890 309h0M877 326h0M877 326h0M877 326h0M905 308h0M905 309h0M905 309h0M924 323h0M924 320h0M925 320h0M924 320h0M924 321h0M924 319h0M924 318h0M874 317h0M881 328h0M880 328h0M881 328h0M898 308h0M882 330h0M883 329h0M882 330h0M882 330h0M889 332h0M925 320h0M925 319h0M886 310h0M886 311h0M886 311h0"/>
<path stroke="#9dcc74" d="M904 309h0M876 314h0M917 330h0M918 330h0M908 332h0M909 332h0M900 309h0M920 312h0M919 312h0M919 312h0M920 312h0M919 312h0M903 308h0M875 315h0M876 315h0M901 308h0M901 309h0M900 308h0M901 309h0M874 323h0M882 311h0M883 311h0M902 309h0M901 309h0M895 333h0M894 333h0M918 311h0M918 311h0M924 317h0M924 316h0M890 310h0M913 332h0M912 332h0M913 332h0M912 331h0M911 310h0M912 310h0M886 331h0M885 331h0M886 331h0M885 331h0M923 324h0M923 324h0M923 325h0M924 322h0M907 333h0M908 332h0M920 314h0M921 313h0M920 313h0M920 314h0M921 314h0M879 313h0M875 317h0M875 317h0M890 331h0M880 327h0M914 310h0M915 310h0M887 310h0M886 311h0M886 311h0M887 310h0M922 314h0M923 318h0M924 318h0M924 317h0M921 326h0M876 324h0M876 323h0M892 309h0M923 322h0M910 310h0M910 309h0M897 333h0M897 332h0M920 328h0M921 326h0M921 326h0M921 327h0M911 332h0M924 319h0M884 311h0M884 312h0M916 329h0M916 330h0M917 329h0M916 329h0M884 330h0M883 330h0M918 313h0M924 321h0M875 318h0M874 319h0M874 319h0M874 318h0M874 318h0M917 311h0M878 326h0M878 326h0M879 327h0M923 323h0M881 328h0M881 328h0M897 333h0M924 319h0M876 324h0M876 324h0M877 324h0M877 325h0M877 315h0M878 314h0M876 316h0M892 309h0M893 309h0M887 331h0M878 325h0M875 319h0M875 320h0M904 332h0"/>
<path stroke="#a9cb6e" d="M899 333h0M898 333h0M898 333h0M898 332h0M923 317h0M922 316h0M923 316h0M888 311h0M887 310h0M887 310h0M888 310h0M877 316h0M913 311h0M914 311h0M903 333h0M904 332h0M903 333h0M903 332h0M900 333h0M919 313h0M920 314h0M920 314h0M900 332h0M902 333h0M901 332h0M902 332h0M882 313h0M881 313h0M893 310h0M893 310h0M893 310h0M893 310h0M893 309h0M921 324h0M922 325h0M922 325h0M922 323h0M923 323h0M880 314h0M879 313h0M917 328h0M917 329h0M917 329h0M918 328h0M921 314h0M921 314h0M909 309h0M908 310h0M913 330h0M885 311h0M884 312h0M923 317h0M923 318h0M915 312h0M881 328h0M918 312h0M917 313h0M875 318h0M875 318h0M876 318h0M920 326h0M915 330h0M889 311h0M884 330h0M885 329h0M885 330h0M923 322h0M887 330h0M887 331h0M888 331h0M912 310h0M908 310h0M907 310h0M907 309h0M920 327h0M920 326h0M909 332h0M909 332h0M923 318h0M922 319h0M923 319h0M923 320h0M922 321h0M922 320h0M922 321h0M922 320h0M876 324h0M896 310h0M923 319h0M878 315h0M879 315h0M880 327h0M875 319h0M876 319h0M875 319h0M877 316h0M876 317h0M876 317h0M876 316h0M882 313h0M918 314h0M919 314h0M897 310h0M897 310h0M913 330h0"/>
<path stroke="#b4c968" d="M889 310h0M889 310h0M885 311h0M885 312h0M886 311h0M878 315h0M878 316h0M875 320h0M875 320h0M875 321h0M909 332h0M908 331h0M909 332h0M905 310h0M905 309h0M906 309h0M905 310h0M880 314h0M880 313h0M881 313h0M880 314h0M881 313h0M876 320h0M876 320h0M876 319h0M878 325h0M879 325h0M878 325h0M920 316h0M920 315h0M921 316h0M917 329h0M916 328h0M911 310h0M898 310h0M897 309h0M919 315h0M920 315h0M915 311h0M914 312h0M888 330h0M893 331h0M894 331h0M905 309h0M920 324h0M920 324h0M917 312h0M921 323h0M898 309h0M915 329h0M922 318h0M921 317h0M922 317h0M886 330h0M885 329h0M885 330h0M885 330h0M903 309h0M903 310h0M904 309h0M903 309h0M903 309h0M902 310h0M901 309h0M907 332h0M908 331h0M908 331h0M907 332h0M890 311h0M890 311h0M890 310h0M891 310h0M877 322h0M876 322h0M877 322h0M876 322h0M917 328h0M918 327h0M918 328h0M881 328h0M882 328h0M920 325h0M920 325h0M895 331h0M894 332h0M921 322h0M912 330h0M921 319h0M877 317h0M919 326h0M911 310h0M910 311h0M887 312h0M886 312h0M883 329h0M884 329h0M884 328h0M884 312h0M884 312h0M879 314h0M880 314h0M921 320h0M921 320h0M922 321h0M921 321h0M921 319h0M921 319h0M922 320h0M921 319h0M890 330h0M889 331h0M917 314h0M917 314h0M918 313h0M921 316h0M920 316h0M907 332h0M906 331h0M914 311h0M913 312h0M881 314h0M877 323h0M878 324h0M915 313h0M916 313h0M920 315h0M879 315h0M880 327h0M880 327h0M880 326h0M880 326h0M881 326h0"/>
<path stroke="#bfc862" d="M906 332h0M877 319h0M877 318h0M909 311h0M910 311h0M886 330h0M887 330h0M896 331h0M896 332h0M910 331h0M888 311h0M876 321h0M876 321h0M879 325h0M879 324h0M879 324h0M920 318h0M893 311h0M876 320h0M904 332h0M920 324h0M919 325h0M919 324h0M891 330h0M884 313h0M916 327h0M916 328h0M912 311h0M913 311h0M912 311h0M912 311h0M903 331h0M904 331h0M899 331h0M898 331h0M909 311h0M909 311h0M908 310h0M909 311h0M882 327h0M885 328h0M918 326h0M918 325h0M918 325h0M903 331h0M903 331h0M899 331h0M899 332h0M900 332h0M899 332h0M916 313h0M918 326h0M918 326h0M894 311h0M894 311h0M894 311h0M902 332h0M901 332h0M900 331h0M910 330h0M909 330h0M910 330h0M878 322h0M877 322h0M883 313h0M914 312h0M920 320h0M912 330h0M920 320h0M920 321h0M920 321h0M889 312h0M887 329h0M888 329h0M892 331h0M892 330h0M914 328h0M914 329h0M917 314h0M918 314h0M919 324h0M919 323h0M880 316h0M879 316h0M911 311h0M879 316h0M878 316h0M885 313h0M886 313h0"/>
<path stroke="#cac65c" d="M881 326h0M907 311h0M907 310h0M909 330h0M908 330h0M879 324h0M878 323h0M879 323h0M878 321h0M878 322h0M877 319h0M878 319h0M893 330h0M893 331h0M889 311h0M918 324h0M906 310h0M906 311h0M885 329h0M886 329h0M886 329h0M886 329h0M916 313h0M896 311h0M897 310h0M880 326h0M880 325h0M880 325h0M911 330h0M912 330h0M880 325h0M880 325h0M888 329h0M877 321h0M878 321h0M877 320h0M878 319h0M878 320h0M913 313h0M913 312h0M913 312h0M914 313h0M883 327h0M883 328h0M884 314h0M884 313h0M883 314h0M884 314h0M904 310h0M904 311h0M917 325h0M920 319h0M919 318h0M910 312h0M911 312h0M916 326h0M917 327h0M897 311h0M919 317h0M918 317h0M919 317h0M893 330h0M894 330h0M920 322h0M898 311h0M898 311h0M898 310h0M886 312h0M886 313h0M919 319h0M919 320h0M919 320h0M920 321h0M919 321h0M879 317h0M900 310h0M903 311h0M917 315h0M901 310h0M901 310h0M879 322h0M879 323h0M878 323h0M881 315h0M881 316h0M919 323h0M918 324h0M906 331h0M895 331h0M895 330h0M895 331h0M880 317h0M880 316h0M910 329h0M909 311h0"/>
<path stroke="#d5c556" d="M912 313h0M913 312h0M913 313h0M882 327h0M914 314h0M919 318h0M918 318h0M919 317h0M892 311h0M892 312h0M891 312h0M914 327h0M885 313h0M885 313h0M895 330h0M878 319h0M879 319h0M878 318h0M878 318h0M888 312h0M882 314h0M883 314h0M883 314h0M878 322h0M878 321h0M879 322h0M913 329h0M912 328h0M885 328h0M919 322h0M918 323h0M882 325h0M882 325h0M882 326h0M881 326h0M908 311h0M909 311h0M915 327h0M915 326h0M916 327h0M916 327h0M915 327h0M919 318h0M919 319h0M918 318h0M904 331h0M904 331h0M904 331h0M904 331h0M904 330h0M904 330h0M917 326h0M916 326h0M917 325h0M917 326h0M916 326h0M917 326h0M917 316h0M917 317h0M917 316h0M915 314h0M916 315h0M915 315h0M881 324h0M881 325h0M880 325h0M881 325h0M892 311h0M893 311h0M893 312h0M890 329h0M890 330h0M890 329h0M878 321h0M878 321h0M878 320h0M909 329h0M917 316h0M916 316h0M916 316h0M898 331h0M898 330h0M898 331h0M904 331h0M903 331h0M904 330h0M903 330h0M918 320h0M912 313h0M911 312h0M911 313h0M912 312h0M918 321h0M919 320h0M919 321h0M919 320h0M879 318h0M882 315h0M881 316h0M882 316h0M882 316h0M888 329h0M888 312h0M898 331h0M898 331h0M908 312h0M907 312h0M914 313h0M913 314h0M913 313h0M893 311h0M885 314h0M886 313h0M885 314h0M899 330h0M899 330h0M918 324h0M918 324h0M902 330h0M901 331h0M902 331h0M901 331h0M901 330h0M901 331h0M881 316h0M913 328h0M892 330h0M892 329h0M892 330h0M911 328h0M912 329h0"/>
<path stroke="#e0c350" d="M883 326h0M883 315h0M908 329h0M908 329h0M886 328h0M885 327h0M906 311h0M907 312h0M910 313h0M910 313h0M916 324h0M915 315h0M914 315h0M914 314h0M879 319h0M890 313h0M890 312h0M890 312h0M889 312h0M914 327h0M915 326h0M917 322h0M917 323h0M918 322h0M917 316h0M881 323h0M880 324h0M879 322h0M879 322h0M916 325h0M916 326h0M889 328h0M888 329h0M905 311h0M906 312h0M883 325h0M917 318h0M918 318h0M918 318h0M916 315h0M907 329h0M886 313h0M887 313h0M886 314h0M886 314h0M882 325h0M882 325h0M881 325h0M882 324h0M880 320h0M879 319h0M880 320h0M883 316h0M883 316h0M883 316h0M897 312h0M880 320h0M904 312h0M904 312h0M905 311h0M911 328h0M910 329h0M910 329h0M911 328h0M918 320h0M881 317h0M880 317h0M880 318h0M881 317h0M880 317h0M912 327h0M913 328h0M884 315h0M885 314h0M885 314h0M891 312h0M897 311h0M897 312h0M903 311h0M904 312h0M893 329h0M893 330h0M882 317h0M882 316h0M882 316h0M882 316h0M886 328h0M907 330h0M906 329h0M906 329h0M906 329h0M907 330h0M907 329h0M885 326h0M885 326h0M902 312h0M903 311h0M903 311h0"/>
<path stroke="#e4c54e" d="M900 312h0M902 311h0M902 311h0M901 311h0M889 328h0M890 328h0M889 329h0M901 311h0M901 312h0M901 311h0M913 314h0M914 315h0M913 315h0M914 314h0M880 322h0M894 330h0M895 329h0M914 327h0M912 314h0M912 313h0M911 313h0M911 313h0M911 313h0M892 312h0M891 312h0M892 313h0M916 324h0M916 324h0M916 325h0M916 325h0M906 330h0M909 329h0M909 312h0M916 317h0M916 316h0M881 319h0M881 318h0M881 319h0M915 315h0M915 325h0M883 325h0M883 326h0M884 326h0M884 326h0M884 315h0M883 316h0M883 316h0M896 330h0M881 324h0M882 324h0M911 328h0M912 328h0M885 315h0M885 315h0M886 315h0M886 314h0M881 321h0M904 330h0M904 329h0M882 325h0M916 322h0M917 321h0M893 313h0M892 313h0M893 313h0M880 319h0M917 319h0M917 319h0M881 317h0M881 320h0M880 320h0M908 313h0M907 312h0M907 312h0M907 313h0M897 330h0M916 321h0M883 316h0M882 317h0M885 327h0M886 326h0M903 329h0M903 330h0M903 329h0M913 314h0M911 314h0M911 314h0M908 329h0M915 324h0M915 323h0"/>
<path stroke="#e8c64d" d="M903 329h0M903 330h0M894 312h0M894 312h0M899 329h0M899 330h0M899 330h0M899 330h0M902 330h0M901 330h0M907 313h0M892 328h0M892 328h0M900 330h0M900 329h0M899 330h0M900 329h0M900 330h0M914 315h0M913 315h0M914 315h0M913 315h0M913 316h0M881 322h0M881 322h0M915 316h0M915 316h0M910 328h0M914 325h0M914 325h0M887 314h0M887 314h0M886 314h0M885 315h0M913 326h0M889 313h0M889 314h0M894 313h0M894 313h0M894 313h0M894 312h0M881 318h0M882 318h0M882 319h0M888 327h0M889 328h0M885 326h0M884 326h0M884 326h0M884 326h0M908 328h0M908 329h0M908 328h0M916 322h0M915 322h0M915 322h0M916 323h0M915 323h0M916 323h0M915 318h0M906 312h0M906 312h0M906 312h0M905 312h0M910 313h0M910 314h0M882 323h0M883 323h0M883 324h0M892 328h0M893 328h0M892 329h0M884 325h0M881 322h0M884 317h0M883 317h0M883 317h0M883 316h0M915 319h0M915 320h0M883 318h0M882 319h0M882 320h0M915 321h0M882 320h0M891 314h0M891 313h0M906 328h0M906 329h0M897 313h0M896 313h0M911 326h0M912 326h0M887 315h0M909 328h0M909 328h0M909 328h0M909 327h0M909 328h0M915 323h0M914 323h0"/>
<path stroke="#ebc84b" d="M903 312h0M903 313h0M889 327h0M889 328h0M912 315h0M894 328h0M893 329h0M909 314h0M909 313h0M909 313h0M897 313h0M897 313h0M914 316h0M914 316h0M914 316h0M914 316h0M903 313h0M898 312h0M899 313h0M898 312h0M912 326h0M913 326h0M912 326h0M912 326h0M913 325h0M914 325h0M914 324h0M913 324h0M914 325h0M902 313h0M902 313h0M900 313h0M901 313h0M900 312h0M900 312h0M901 312h0M905 328h0M882 323h0M882 322h0M883 323h0M883 323h0M883 322h0M886 325h0M886 326h0M886 325h0M885 326h0M885 326h0M891 313h0M892 313h0M910 314h0M910 314h0M882 318h0M894 328h0M895 328h0M895 329h0M915 319h0M887 327h0M915 323h0M914 322h0M914 323h0M914 323h0M884 317h0M885 316h0M907 314h0M907 313h0M907 313h0M889 315h0M908 327h0M908 327h0M908 327h0M909 327h0M883 323h0M883 323h0M905 328h0M905 328h0M891 327h0M891 328h0M885 325h0M883 318h0M883 318h0M883 318h0M883 317h0M911 327h0M895 328h0M915 322h0M882 321h0M882 321h0M893 313h0M892 313h0M892 314h0M893 314h0M883 320h0M886 315h0M914 320h0M912 315h0M912 316h0M912 316h0M911 315h0M913 317h0M913 318h0M882 321h0M882 320h0M883 321h0M882 320h0M904 328h0"/>
<path stroke="#efca49" d="M914 324h0M913 324h0M914 324h0M896 329h0M906 314h0M909 314h0M910 314h0M909 314h0M912 317h0M902 328h0M903 328h0M903 328h0M894 314h0M907 327h0M908 328h0M898 329h0M886 326h0M886 325h0M890 315h0M913 324h0M912 325h0M912 324h0M913 324h0M913 325h0M891 328h0M891 328h0M892 327h0M891 328h0M891 327h0M901 328h0M902 328h0M901 328h0M901 328h0M902 328h0M898 329h0M899 329h0M901 328h0M900 328h0M884 322h0M884 322h0M883 323h0M900 328h0M899 328h0M899 329h0M900 328h0M884 319h0M884 319h0M884 319h0M885 317h0M905 314h0M913 319h0M913 319h0M909 326h0M910 327h0M909 327h0M914 323h0M914 323h0M914 322h0M914 323h0M894 314h0M887 315h0M888 316h0M888 316h0M885 325h0M885 325h0M885 324h0M886 324h0M885 324h0M910 315h0M885 324h0M892 327h0M892 328h0M907 328h0M891 314h0M891 315h0M905 314h0M904 314h0M913 319h0M913 322h0M884 322h0M883 322h0M884 322h0M883 321h0M895 314h0M913 317h0M912 317h0M912 317h0M913 317h0M913 317h0M913 317h0M889 326h0M889 326h0M889 327h0M914 320h0M914 320h0M913 320h0M912 316h0"/>
<path stroke="#f2cc47" d="M913 324h0M913 323h0M911 326h0M910 326h0M911 325h0M883 321h0M884 320h0M883 321h0M887 326h0M888 326h0M887 325h0M888 325h0M904 313h0M903 314h0M904 314h0M904 314h0M896 314h0M897 314h0M896 314h0M897 314h0M896 314h0M897 314h0M897 314h0M912 324h0M893 328h0M894 328h0M894 328h0M893 327h0M909 327h0M908 326h0M908 327h0M909 327h0M908 326h0M906 327h0M905 328h0M906 328h0M905 327h0M905 328h0M887 317h0M886 317h0M887 317h0M903 313h0M903 314h0M903 313h0M898 314h0M898 314h0M898 314h0M889 315h0M908 314h0M908 315h0M907 315h0M891 315h0M892 314h0M891 315h0M884 318h0M885 318h0M884 318h0M901 314h0M899 314h0M898 313h0M898 314h0M884 322h0M885 322h0M909 315h0M909 315h0M913 318h0M912 318h0M913 318h0M901 314h0M900 313h0M899 314h0M900 314h0M886 318h0M886 318h0M886 317h0M886 317h0M886 325h0M886 325h0M886 324h0M913 323h0M913 322h0M912 322h0M912 322h0M890 327h0M890 326h0M895 327h0M895 328h0M894 328h0M895 327h0M905 328h0M905 328h0M886 323h0M885 324h0M892 315h0M892 314h0M892 315h0M911 318h0M912 318h0M912 318h0M910 316h0M910 316h0M910 316h0M911 316h0M910 316h0M910 326h0M909 325h0M909 326h0M910 326h0M910 325h0M906 315h0M906 314h0M907 315h0M907 326h0M908 326h0M907 326h0M908 326h0M907 327h0M888 326h0M889 325h0M889 326h0M885 319h0M884 320h0M884 319h0M913 321h0M885 322h0M885 321h0M885 322h0M895 328h0M896 327h0M895 327h0M889 316h0M904 327h0M903 328h0M912 320h0M912 324h0M912 324h0M911 324h0M911 324h0"/>
<path stroke="#f5ce46" d="M888 317h0M884 320h0M885 320h0M884 320h0M884 321h0M891 326h0M892 326h0M891 326h0M909 316h0M909 315h0M908 316h0M908 316h0M897 327h0M897 328h0M902 328h0M902 328h0M903 327h0M903 327h0M893 314h0M893 315h0M893 314h0M905 315h0M905 314h0M886 319h0M885 319h0M885 318h0M898 327h0M898 327h0M886 317h0M887 318h0M887 318h0M887 317h0M887 317h0M887 318h0M902 327h0M902 327h0M901 328h0M887 325h0M887 325h0M907 327h0M907 326h0M911 318h0M911 318h0M886 322h0M885 323h0M886 323h0M886 322h0M886 323h0M899 328h0M898 328h0M898 328h0M900 328h0M899 327h0M890 316h0M891 316h0M911 322h0M911 323h0M890 326h0M889 325h0M889 325h0M889 326h0M909 326h0M908 325h0M908 325h0M895 314h0M886 324h0M886 324h0M887 324h0M886 324h0M910 316h0M910 317h0M904 314h0M905 314h0M893 327h0M892 326h0M893 326h0M892 326h0M911 317h0M889 317h0M907 315h0M907 315h0M886 320h0M911 320h0M912 320h0M912 319h0M911 320h0M885 321h0M885 322h0M885 321h0M885 322h0M911 322h0M911 321h0M911 321h0M912 321h0M911 321h0M896 314h0M896 314h0M895 315h0M910 323h0M910 324h0M909 325h0M905 327h0M906 327h0M906 326h0M906 326h0M906 326h0M904 315h0M903 314h0M903 315h0"/>
<path stroke="#f6d245" d="M885 320h0M886 321h0M885 320h0M891 315h0M892 315h0M891 315h0M894 326h0M897 314h0M896 315h0M896 315h0M897 315h0M897 315h0M888 317h0M888 317h0M886 318h0M886 318h0M887 319h0M902 314h0M903 314h0M903 314h0M889 325h0M889 325h0M908 326h0M908 326h0M911 319h0M907 315h0M906 315h0M907 316h0M909 317h0M909 317h0M909 316h0M909 317h0M887 323h0M886 322h0M887 323h0M887 323h0M904 326h0M901 314h0M902 314h0M901 315h0M902 315h0M889 317h0M889 316h0M889 316h0M890 317h0M899 315h0M899 315h0M901 315h0M901 314h0M900 314h0M900 315h0M888 323h0M900 315h0M900 315h0M899 314h0M911 322h0M911 323h0M910 322h0M894 327h0M895 327h0M894 327h0M909 317h0M892 316h0M893 316h0M893 316h0M909 325h0M909 324h0M887 320h0M903 327h0M904 326h0M904 327h0M903 326h0M903 326h0M910 320h0M910 319h0M910 324h0M910 323h0M910 324h0M910 323h0M891 326h0M895 326h0M896 327h0M910 322h0M906 316h0M906 316h0M906 316h0M905 316h0M906 316h0M907 326h0M906 326h0M888 318h0M888 318h0M889 318h0M889 318h0M911 321h0M911 321h0M910 320h0M910 321h0M911 321h0M886 321h0M887 321h0M886 320h0M886 321h0M890 324h0M890 324h0"/>
<path stroke="#f6d744" d="M903 327h0M903 327h0M902 326h0M902 326h0M902 326h0M893 315h0M887 318h0M888 319h0M888 319h0M888 319h0M890 316h0M890 317h0M907 317h0M897 326h0M896 326h0M909 319h0M909 319h0M910 319h0M887 323h0M897 327h0M897 327h0M898 327h0M898 327h0M898 326h0M889 323h0M889 324h0M888 324h0M888 323h0M888 324h0M908 317h0M909 318h0M893 326h0M892 326h0M893 326h0M899 326h0M898 326h0M899 326h0M898 326h0M898 327h0M898 326h0M910 322h0M910 323h0M910 323h0M900 326h0M899 327h0M899 327h0M899 326h0M895 315h0M894 315h0M905 326h0M906 325h0M908 325h0M907 325h0M887 319h0M887 320h0M887 319h0M888 320h0M909 324h0M892 317h0M892 317h0M891 316h0M891 325h0M890 325h0M891 324h0M889 318h0M904 316h0M904 315h0M909 319h0M909 320h0M910 320h0M906 317h0M906 317h0M907 316h0M907 316h0M888 321h0M887 321h0M896 316h0M895 315h0M910 321h0M910 321h0M910 322h0M910 322h0M909 322h0M888 321h0M887 321h0M888 319h0M889 319h0M888 318h0M889 318h0M894 326h0M894 326h0M893 326h0M910 320h0M909 320h0M904 326h0M903 316h0M902 315h0M902 316h0M903 315h0M896 316h0M896 315h0"/>
<path stroke="#f7db43" d="M889 324h0M889 323h0M889 323h0M908 318h0M908 319h0M908 319h0M908 318h0M909 319h0M909 319h0M908 318h0M888 323h0M888 322h0M889 322h0M907 317h0M908 317h0M908 318h0M907 317h0M907 325h0M907 325h0M906 324h0M907 325h0M906 325h0M907 324h0M906 325h0M907 324h0M906 324h0M906 325h0M902 315h0M901 316h0M901 316h0M901 315h0M901 316h0M901 315h0M901 315h0M893 316h0M898 316h0M897 315h0M895 325h0M895 326h0M906 316h0M906 316h0M891 324h0M892 325h0M892 324h0M892 324h0M909 323h0M908 323h0M900 316h0M901 315h0M900 315h0M898 316h0M898 315h0M899 316h0M898 315h0M899 316h0M898 315h0M899 316h0M900 316h0M900 315h0M904 325h0M903 326h0M907 324h0M907 323h0M908 323h0M889 319h0M888 319h0M889 319h0M888 319h0M888 319h0M889 322h0M908 320h0M909 319h0M909 319h0M896 326h0M895 326h0M896 325h0M896 325h0M895 325h0M889 318h0M890 318h0M894 317h0M893 316h0M894 316h0M893 317h0M893 317h0M908 321h0M908 321h0M908 321h0M908 321h0M909 321h0M909 321h0M909 321h0M903 325h0M902 325h0M902 326h0M888 321h0M905 316h0M905 317h0M909 320h0M908 321h0M890 324h0M907 318h0M906 318h0M906 317h0M892 324h0M893 324h0M892 325h0M893 324h0M892 325h0M893 325h0M893 324h0M897 325h0M896 326h0M896 326h0M897 326h0M897 325h0M897 325h0M896 326h0M908 318h0M908 319h0M908 318h0M907 319h0M890 322h0M890 323h0M890 323h0M889 322h0M889 323h0M902 326h0M901 325h0M891 317h0M891 318h0M891 317h0M891 317h0M898 325h0M898 325h0"/>
<path stroke="#f8e042" d="M894 316h0M894 317h0M900 325h0M900 326h0M901 325h0M900 325h0M901 325h0M908 322h0M907 322h0M907 323h0M908 323h0M898 325h0M900 326h0M904 316h0M904 317h0M903 316h0M904 317h0M904 316h0M904 316h0M890 319h0M890 319h0M890 319h0M904 325h0M904 325h0M890 319h0M891 319h0M894 325h0M894 324h0M889 322h0M889 321h0M890 321h0M890 322h0M890 322h0M890 321h0M895 317h0M896 316h0M896 317h0M907 319h0M907 319h0M908 320h0M905 318h0M891 324h0M890 321h0M890 321h0M890 320h0M908 321h0M908 322h0M908 321h0M908 322h0M903 317h0M902 316h0M908 320h0M907 321h0M908 320h0M908 321h0M907 321h0M908 320h0M906 319h0M907 318h0M907 319h0M906 319h0M891 322h0M890 322h0M891 323h0M897 317h0M904 324h0M903 325h0M895 324h0M894 324h0M894 325h0M905 323h0M898 316h0M898 316h0M897 316h0M906 322h0M906 322h0M907 322h0M906 322h0M901 317h0M900 316h0M901 317h0M890 320h0M890 319h0M890 320h0M891 319h0M890 319h0M892 319h0M891 319h0M899 317h0M899 316h0M898 317h0M904 317h0M904 318h0M905 317h0M904 317h0M899 317h0M899 317h0M893 318h0M893 318h0M893 317h0M894 318h0M893 324h0M892 323h0M903 324h0"/>
<path stroke="#f8e541" d="M891 322h0M891 322h0M890 321h0M891 321h0M896 324h0M907 320h0M907 319h0M906 319h0M906 320h0M906 319h0M891 321h0M890 320h0M891 321h0M890 320h0M890 320h0M907 321h0M906 321h0M906 322h0M906 321h0M907 321h0M906 318h0M905 319h0M905 319h0M906 318h0M905 319h0M906 319h0M892 323h0M891 323h0M892 322h0M891 323h0M904 324h0M904 324h0M905 324h0M901 325h0M901 325h0M897 324h0M896 325h0M897 324h0M907 320h0M906 321h0M906 320h0M904 317h0M903 318h0M894 318h0M894 317h0M893 318h0M893 319h0M906 323h0M905 323h0M906 322h0M905 323h0M894 323h0M894 324h0M901 324h0M900 324h0M900 324h0M897 325h0M898 324h0M897 325h0M898 324h0M900 325h0M900 325h0M900 324h0M895 318h0M896 318h0M895 318h0M896 318h0M895 318h0M896 317h0M895 318h0M891 322h0M892 321h0M892 322h0M891 321h0M891 322h0M892 321h0M903 318h0M902 318h0M903 318h0M903 323h0M903 324h0M904 323h0M903 323h0M905 319h0M905 319h0M892 320h0M891 320h0M892 321h0M891 320h0M892 320h0M892 323h0M906 321h0M894 324h0M895 323h0M893 318h0M896 317h0M897 317h0M902 318h0M901 317h0M906 321h0M905 321h0M905 322h0M905 322h0M905 322h0"/>
<path stroke="#f9e940" d="M892 320h0M892 320h0M898 318h0M897 317h0M898 317h0M898 318h0M898 317h0M897 318h0M898 317h0M903 324h0M902 323h0M900 317h0M900 317h0M900 318h0M900 317h0M901 317h0M899 318h0M899 318h0M899 318h0M898 317h0M899 318h0M899 318h0M899 318h0M896 324h0M904 318h0M904 319h0M893 322h0M892 322h0M893 322h0M894 322h0M894 322h0M904 320h0M904 319h0M904 319h0M895 318h0M895 319h0M895 318h0M894 319h0M894 318h0M893 321h0M892 320h0M901 324h0M902 324h0M901 323h0M902 324h0M902 323h0M905 321h0M904 321h0M904 322h0M905 321h0M905 322h0M896 324h0M896 323h0M896 324h0M897 324h0M897 323h0M896 323h0M903 323h0M904 323h0M903 323h0M893 320h0M893 320h0M893 320h0M893 320h0M900 323h0M903 319h0M898 323h0M897 323h0M898 323h0M898 323h0M898 324h0M896 319h0M895 318h0M896 319h0M895 318h0M896 318h0M900 323h0M899 324h0M899 323h0M899 324h0M898 324h0M898 323h0M895 323h0M893 322h0M893 321h0M894 320h0M902 318h0M901 319h0M902 319h0M902 319h0M903 322h0M896 319h0M896 318h0M896 319h0M903 321h0M904 322h0M895 320h0M903 320h0M903 320h0M904 320h0M904 320h0M896 322h0M895 323h0"/>
<path stroke="#faee3f" d="M901 319h0M900 318h0M900 318h0M897 319h0M897 318h0M897 319h0M895 321h0M894 321h0M894 322h0M894 321h0M900 318h0M900 318h0M899 318h0M900 319h0M899 318h0M899 318h0M899 319h0M899 318h0M899 318h0M901 323h0M902 320h0M903 319h0M903 319h0M903 320h0M895 321h0M895 320h0M896 322h0M897 322h0M897 322h0M896 322h0M895 319h0M896 320h0M895 319h0M895 320h0M902 321h0M903 321h0M901 322h0M900 322h0M901 322h0M903 320h0M903 320h0M903 321h0M903 320h0M897 322h0M898 322h0M898 322h0M901 319h0M901 319h0M901 319h0M900 322h0M900 322h0M896 322h0M895 321h0M895 321h0M899 322h0M898 322h0M898 322h0M899 323h0M899 322h0M896 319h0M897 320h0M896 320h0M896 320h0M895 321h0M896 320h0M896 320h0M896 321h0M901 322h0M902 322h0M900 320h0M901 321h0M902 321h0M898 320h0M898 320h0M896 321h0M897 322h0M900 319h0M900 319h0M900 320h0M899 319h0M900 319h0M899 320h0M899 319h0M898 320h0M899 319h0M901 322h0M901 321h0M896 320h0M896 320h0M898 322h0M897 321h0M898 322h0M897 322h0M898 321h0M897 322h0M901 321h0M899 322h0M899 322h0M900 321h0M900 322h0M900 321h0M899 321h0M898 321h0M898 321h0M898 321h0M898 320h0M898 320h0M897 321h0M897 320h0M900 320h0M899 321h0M900 321h0M900 320h0M899 321h0M898 321h0"/>
</g>
<path d="M742 325.2L1353.5 332.3" stroke="#c8352b" stroke-width="6.4" stroke-linecap="butt"/>
<rect x="738.9" y="89.3" width="620.6" height="449.3" fill="none" stroke="#fff" stroke-width="9.4"/>
<rect x="738.9" y="89.3" width="620.6" height="449.3" fill="none" stroke="#000" stroke-width="6.6"/>
<path d="M741 141.2h7M741 230.9h7M741 320.6h7M741 410.3h7M741 500.0h7" stroke="#000" stroke-width="1.6"/>
<path d="M1359.5 541.5V550" stroke="#000" stroke-width="1.3"/>
<text x="728.5" y="151.0" text-anchor="end" font-family='"Liberation Sans", sans-serif' font-weight="bold" font-size="27" fill="#000" stroke="#fff" stroke-width="3" paint-order="stroke">4</text>
<text x="728.5" y="240.7" text-anchor="end" font-family='"Liberation Sans", sans-serif' font-weight="bold" font-size="27" fill="#000" stroke="#fff" stroke-width="3" paint-order="stroke">2</text>
<text x="728.5" y="330.4" text-anchor="end" font-family='"Liberation Sans", sans-serif' font-weight="bold" font-size="27" fill="#000" stroke="#fff" stroke-width="3" paint-order="stroke">0</text>
<text x="728.5" y="420.1" text-anchor="end" font-family='"Liberation Sans", sans-serif' font-weight="bold" font-size="27" fill="#000" stroke="#fff" stroke-width="3" paint-order="stroke">- 2</text>
<text x="728.5" y="509.8" text-anchor="end" font-family='"Liberation Sans", sans-serif' font-weight="bold" font-size="27" fill="#000" stroke="#fff" stroke-width="3" paint-order="stroke">- 4</text>
<text x="829.5" y="569.3" text-anchor="middle" font-family='"Liberation Sans", sans-serif' font-weight="bold" font-size="27" fill="#000" stroke="#fff" stroke-width="3" paint-order="stroke">100</text>
<text x="919.4" y="569.3" text-anchor="middle" font-family='"Liberation Sans", sans-serif' font-weight="bold" font-size="27" fill="#000" stroke="#fff" stroke-width="3" paint-order="stroke">200</text>
<text x="1009.3" y="569.3" text-anchor="middle" font-family='"Liberation Sans", sans-serif' font-weight="bold" font-size="27" fill="#000" stroke="#fff" stroke-width="3" paint-order="stroke">300</text>
<text x="1099.2" y="569.3" text-anchor="middle" font-family='"Liberation Sans", sans-serif' font-weight="bold" font-size="27" fill="#000" stroke="#fff" stroke-width="3" paint-order="stroke">400</text>
<text x="1189.1" y="569.3" text-anchor="middle" font-family='"Liberation Sans", sans-serif' font-weight="bold" font-size="27" fill="#000" stroke="#fff" stroke-width="3" paint-order="stroke">500</text>
<text x="1279.0" y="569.3" text-anchor="middle" font-family='"Liberation Sans", sans-serif' font-weight="bold" font-size="27" fill="#000" stroke="#fff" stroke-width="3" paint-order="stroke">600</text>
<defs><linearGradient id="cb" x1="0" y1="1" x2="0" y2="0"><stop offset="0" stop-color="#3a44a8"/><stop offset="0.1" stop-color="#3e58d0"/><stop offset="0.2" stop-color="#4a78f0"/><stop offset="0.3" stop-color="#5a94e0"/><stop offset="0.4" stop-color="#62a8c8"/><stop offset="0.5" stop-color="#74b89a"/><stop offset="0.6" stop-color="#9cbc5c"/><stop offset="0.7" stop-color="#c8b43c"/><stop offset="0.8" stop-color="#e4b050"/><stop offset="0.9" stop-color="#f0c84a"/><stop offset="1" stop-color="#f5ea4a"/></linearGradient></defs>
<rect x="1374" y="94.3" width="24" height="438" fill="none" stroke="#fff" stroke-width="3.5"/>
<rect x="1374" y="94.3" width="24" height="438" fill="url(#cb)" stroke="#2a2a40" stroke-width="1.1"/>
<path d="M1398 138.1h-4M1398 181.9h-4M1398 225.7h-4M1398 269.5h-4M1398 313.3h-4M1398 357.1h-4M1398 400.9h-4M1398 444.7h-4M1398 488.5h-4" stroke="#111" stroke-width="1.2"/>
<text x="1406" y="102.7" font-family='"Liberation Sans", sans-serif' font-weight="bold" font-size="27" fill="#000" stroke="#fff" stroke-width="3" paint-order="stroke">1</text>
<text x="1403.5" y="323.8" font-family='"Liberation Sans", sans-serif' font-weight="bold" font-size="27" fill="#000" stroke="#fff" stroke-width="3" paint-order="stroke">0.5</text>
<text x="1403.5" y="540.6" font-family='"Liberation Sans", sans-serif' font-weight="bold" font-size="27" fill="#000" stroke="#fff" stroke-width="3" paint-order="stroke">0</text>
<text x="923.5" y="615.5" font-family='"Liberation Serif", serif' font-weight="bold" font-style="italic" font-size="34.7" fill="#000" textLength="215" lengthAdjust="spacingAndGlyphs">Rise time, RT</text>
<g transform="translate(679 489) rotate(-90)"><text x="0" y="0" font-family='"Liberation Serif", serif' font-weight="bold" fill="#000" font-size="34" textLength="56" lengthAdjust="spacingAndGlyphs" >TW</text><text x="58" y="0" font-family='"Liberation Serif", serif' font-weight="bold" fill="#000" font-size="36" textLength="13" lengthAdjust="spacingAndGlyphs" font-weight="normal">(</text><text x="74.5" y="0" font-family='"Liberation Serif", serif' font-weight="bold" fill="#000" font-size="33" textLength="40" lengthAdjust="spacingAndGlyphs" font-style="italic">RT</text><text x="118" y="8" font-family='"Liberation Serif", serif' font-weight="bold" fill="#000" font-size="24" textLength="34" lengthAdjust="spacingAndGlyphs" ><tspan font-style="italic">M</tspan>1</text><text x="152" y="0" font-family='"Liberation Serif", serif' font-weight="bold" fill="#000" font-size="33" textLength="8" lengthAdjust="spacingAndGlyphs" font-style="italic">,</text><text x="170" y="0" font-family='"Liberation Serif", serif' font-weight="bold" fill="#000" font-size="33" textLength="41.5" lengthAdjust="spacingAndGlyphs" font-style="italic">RT</text><text x="215" y="8" font-family='"Liberation Serif", serif' font-weight="bold" fill="#000" font-size="24" textLength="35" lengthAdjust="spacingAndGlyphs" ><tspan font-style="italic">M</tspan>2</text><text x="251.5" y="0" font-family='"Liberation Serif", serif' font-weight="bold" fill="#000" font-size="36" textLength="13" lengthAdjust="spacingAndGlyphs" font-weight="normal">)</text><text x="277" y="0" font-family='"Liberation Sans", sans-serif' font-weight="bold" font-size="30" fill="#000" textLength="49" lengthAdjust="spacingAndGlyphs">(ns)</text></g>
</svg>
</body></html>
